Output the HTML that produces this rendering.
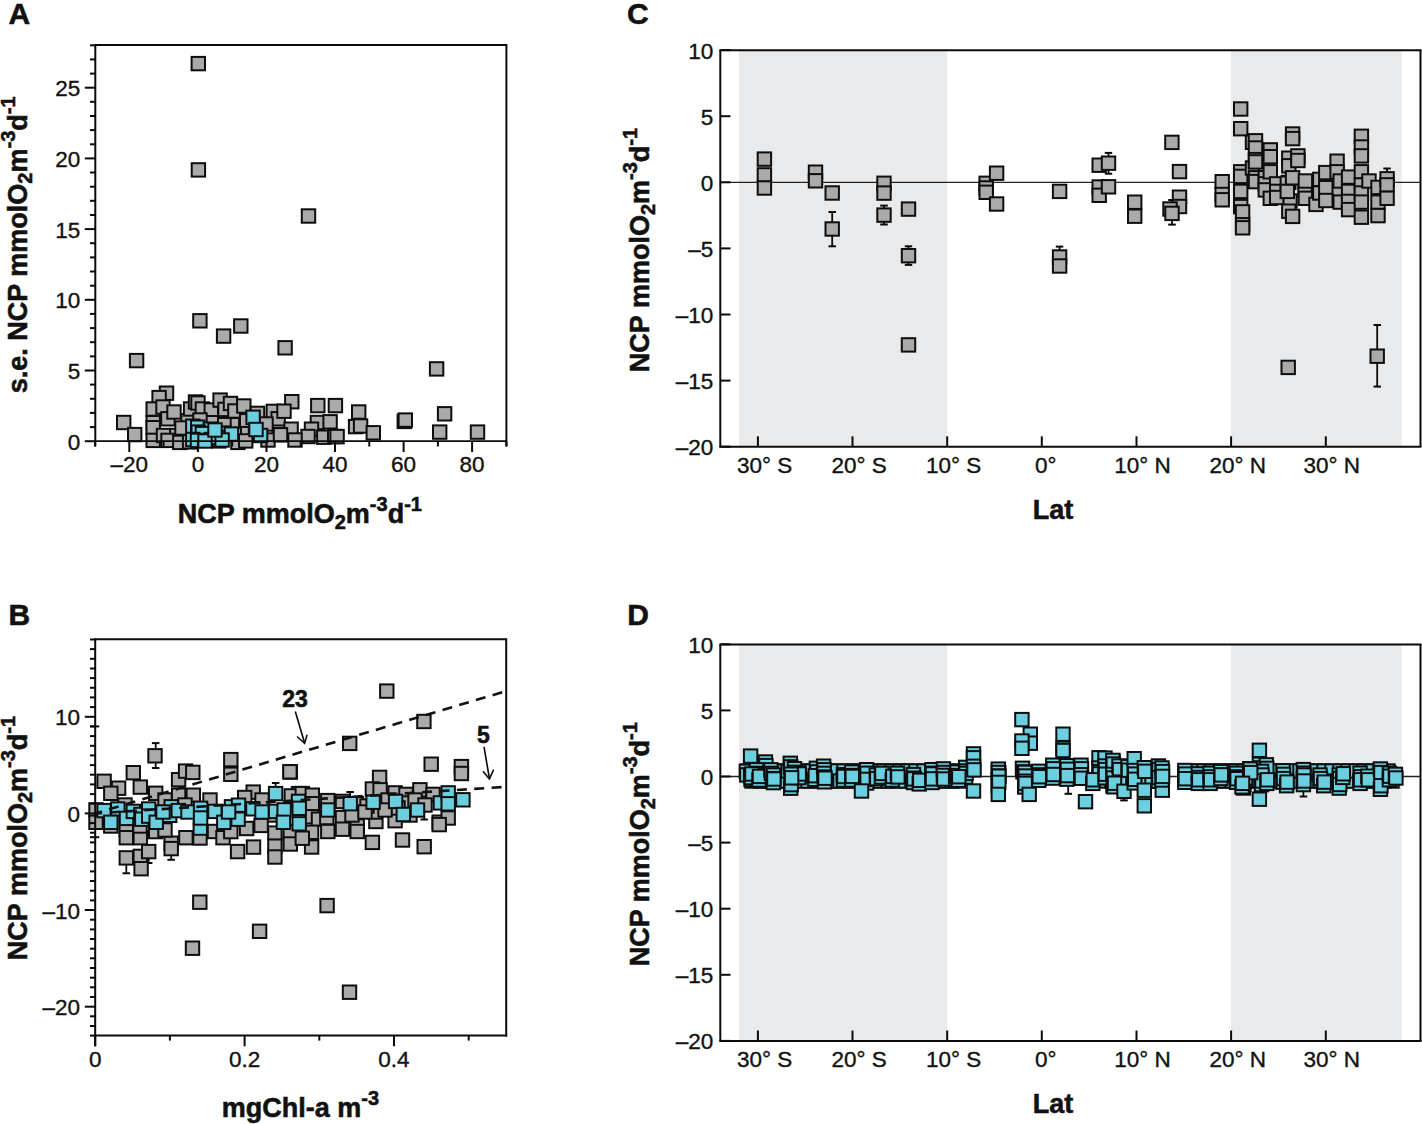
<!DOCTYPE html>
<html><head><meta charset="utf-8"><style>
html,body{margin:0;padding:0;background:#fff;}
svg{display:block;font-family:"Liberation Sans", sans-serif;}
text{fill:#111;stroke:#111;stroke-width:0.35px;}
text[font-weight=bold]{stroke-width:0.55px;}
</style></head><body>
<svg width="1422" height="1124" viewBox="0 0 1422 1124">
<rect width="1422" height="1124" fill="#fff"/>
<rect x="191.6" y="56.9" width="13.4" height="13.4" fill="#aaaaaa" stroke="#0d0d0d" stroke-width="2.0"/>
<rect x="191.7" y="163.2" width="13.4" height="13.4" fill="#aaaaaa" stroke="#0d0d0d" stroke-width="2.0"/>
<rect x="301.8" y="209.3" width="13.4" height="13.4" fill="#aaaaaa" stroke="#0d0d0d" stroke-width="2.0"/>
<rect x="193.2" y="314.1" width="13.4" height="13.4" fill="#aaaaaa" stroke="#0d0d0d" stroke-width="2.0"/>
<rect x="216.9" y="329.4" width="13.4" height="13.4" fill="#aaaaaa" stroke="#0d0d0d" stroke-width="2.0"/>
<rect x="234.1" y="319.3" width="13.4" height="13.4" fill="#aaaaaa" stroke="#0d0d0d" stroke-width="2.0"/>
<rect x="278.4" y="341.1" width="13.4" height="13.4" fill="#aaaaaa" stroke="#0d0d0d" stroke-width="2.0"/>
<rect x="129.9" y="353.9" width="13.4" height="13.4" fill="#aaaaaa" stroke="#0d0d0d" stroke-width="2.0"/>
<rect x="429.9" y="362.2" width="13.4" height="13.4" fill="#aaaaaa" stroke="#0d0d0d" stroke-width="2.0"/>
<rect x="117.0" y="415.8" width="13.4" height="13.4" fill="#aaaaaa" stroke="#0d0d0d" stroke-width="2.0"/>
<rect x="128.0" y="427.9" width="13.4" height="13.4" fill="#aaaaaa" stroke="#0d0d0d" stroke-width="2.0"/>
<rect x="159.8" y="386.5" width="13.4" height="13.4" fill="#aaaaaa" stroke="#0d0d0d" stroke-width="2.0"/>
<rect x="152.4" y="390.9" width="13.4" height="13.4" fill="#aaaaaa" stroke="#0d0d0d" stroke-width="2.0"/>
<rect x="146.5" y="402.3" width="13.4" height="13.4" fill="#aaaaaa" stroke="#0d0d0d" stroke-width="2.0"/>
<rect x="156.3" y="400.3" width="13.4" height="13.4" fill="#aaaaaa" stroke="#0d0d0d" stroke-width="2.0"/>
<rect x="146.5" y="416.0" width="13.4" height="13.4" fill="#aaaaaa" stroke="#0d0d0d" stroke-width="2.0"/>
<rect x="146.5" y="421.0" width="13.4" height="13.4" fill="#aaaaaa" stroke="#0d0d0d" stroke-width="2.0"/>
<rect x="146.5" y="433.7" width="13.4" height="13.4" fill="#aaaaaa" stroke="#0d0d0d" stroke-width="2.0"/>
<rect x="161.2" y="412.1" width="13.4" height="13.4" fill="#aaaaaa" stroke="#0d0d0d" stroke-width="2.0"/>
<rect x="167.3" y="405.3" width="13.4" height="13.4" fill="#aaaaaa" stroke="#0d0d0d" stroke-width="2.0"/>
<rect x="156.8" y="428.8" width="13.4" height="13.4" fill="#aaaaaa" stroke="#0d0d0d" stroke-width="2.0"/>
<rect x="170.1" y="428.8" width="13.4" height="13.4" fill="#aaaaaa" stroke="#0d0d0d" stroke-width="2.0"/>
<rect x="181.3" y="414.1" width="13.4" height="13.4" fill="#aaaaaa" stroke="#0d0d0d" stroke-width="2.0"/>
<rect x="183.9" y="402.3" width="13.4" height="13.4" fill="#aaaaaa" stroke="#0d0d0d" stroke-width="2.0"/>
<rect x="188.8" y="395.3" width="13.4" height="13.4" fill="#aaaaaa" stroke="#0d0d0d" stroke-width="2.0"/>
<rect x="191.3" y="396.3" width="13.4" height="13.4" fill="#aaaaaa" stroke="#0d0d0d" stroke-width="2.0"/>
<rect x="195.7" y="402.3" width="13.4" height="13.4" fill="#aaaaaa" stroke="#0d0d0d" stroke-width="2.0"/>
<rect x="204.6" y="403.3" width="13.4" height="13.4" fill="#aaaaaa" stroke="#0d0d0d" stroke-width="2.0"/>
<rect x="213.4" y="393.4" width="13.4" height="13.4" fill="#aaaaaa" stroke="#0d0d0d" stroke-width="2.0"/>
<rect x="218.3" y="402.7" width="13.4" height="13.4" fill="#aaaaaa" stroke="#0d0d0d" stroke-width="2.0"/>
<rect x="223.8" y="396.8" width="13.4" height="13.4" fill="#aaaaaa" stroke="#0d0d0d" stroke-width="2.0"/>
<rect x="228.2" y="404.3" width="13.4" height="13.4" fill="#aaaaaa" stroke="#0d0d0d" stroke-width="2.0"/>
<rect x="237.1" y="399.3" width="13.4" height="13.4" fill="#aaaaaa" stroke="#0d0d0d" stroke-width="2.0"/>
<rect x="225.7" y="418.0" width="13.4" height="13.4" fill="#aaaaaa" stroke="#0d0d0d" stroke-width="2.0"/>
<rect x="217.3" y="418.0" width="13.4" height="13.4" fill="#aaaaaa" stroke="#0d0d0d" stroke-width="2.0"/>
<rect x="240.0" y="414.1" width="13.4" height="13.4" fill="#aaaaaa" stroke="#0d0d0d" stroke-width="2.0"/>
<rect x="233.9" y="427.8" width="13.4" height="13.4" fill="#aaaaaa" stroke="#0d0d0d" stroke-width="2.0"/>
<rect x="241.0" y="426.9" width="13.4" height="13.4" fill="#aaaaaa" stroke="#0d0d0d" stroke-width="2.0"/>
<rect x="250.8" y="406.7" width="13.4" height="13.4" fill="#aaaaaa" stroke="#0d0d0d" stroke-width="2.0"/>
<rect x="266.6" y="404.7" width="13.4" height="13.4" fill="#aaaaaa" stroke="#0d0d0d" stroke-width="2.0"/>
<rect x="271.5" y="412.1" width="13.4" height="13.4" fill="#aaaaaa" stroke="#0d0d0d" stroke-width="2.0"/>
<rect x="272.5" y="427.8" width="13.4" height="13.4" fill="#aaaaaa" stroke="#0d0d0d" stroke-width="2.0"/>
<rect x="248.8" y="427.3" width="13.4" height="13.4" fill="#aaaaaa" stroke="#0d0d0d" stroke-width="2.0"/>
<rect x="161.3" y="433.7" width="13.4" height="13.4" fill="#aaaaaa" stroke="#0d0d0d" stroke-width="2.0"/>
<rect x="173.1" y="435.7" width="13.4" height="13.4" fill="#aaaaaa" stroke="#0d0d0d" stroke-width="2.0"/>
<rect x="231.2" y="435.7" width="13.4" height="13.4" fill="#aaaaaa" stroke="#0d0d0d" stroke-width="2.0"/>
<rect x="239.0" y="434.2" width="13.4" height="13.4" fill="#aaaaaa" stroke="#0d0d0d" stroke-width="2.0"/>
<rect x="182.9" y="435.2" width="13.4" height="13.4" fill="#aaaaaa" stroke="#0d0d0d" stroke-width="2.0"/>
<rect x="212.1" y="434.2" width="13.4" height="13.4" fill="#aaaaaa" stroke="#0d0d0d" stroke-width="2.0"/>
<rect x="204.6" y="416.0" width="13.4" height="13.4" fill="#aaaaaa" stroke="#0d0d0d" stroke-width="2.0"/>
<rect x="193.3" y="413.3" width="13.4" height="13.4" fill="#aaaaaa" stroke="#0d0d0d" stroke-width="2.0"/>
<rect x="175.3" y="421.3" width="13.4" height="13.4" fill="#aaaaaa" stroke="#0d0d0d" stroke-width="2.0"/>
<rect x="259.3" y="417.3" width="13.4" height="13.4" fill="#aaaaaa" stroke="#0d0d0d" stroke-width="2.0"/>
<rect x="261.3" y="433.3" width="13.4" height="13.4" fill="#aaaaaa" stroke="#0d0d0d" stroke-width="2.0"/>
<rect x="285.1" y="395.0" width="13.4" height="13.4" fill="#aaaaaa" stroke="#0d0d0d" stroke-width="2.0"/>
<rect x="311.1" y="398.9" width="13.4" height="13.4" fill="#aaaaaa" stroke="#0d0d0d" stroke-width="2.0"/>
<rect x="328.7" y="398.9" width="13.4" height="13.4" fill="#aaaaaa" stroke="#0d0d0d" stroke-width="2.0"/>
<rect x="277.3" y="404.5" width="13.4" height="13.4" fill="#aaaaaa" stroke="#0d0d0d" stroke-width="2.0"/>
<rect x="284.4" y="422.5" width="13.4" height="13.4" fill="#aaaaaa" stroke="#0d0d0d" stroke-width="2.0"/>
<rect x="273.8" y="428.1" width="13.4" height="13.4" fill="#aaaaaa" stroke="#0d0d0d" stroke-width="2.0"/>
<rect x="310.7" y="415.8" width="13.4" height="13.4" fill="#aaaaaa" stroke="#0d0d0d" stroke-width="2.0"/>
<rect x="323.4" y="415.1" width="13.4" height="13.4" fill="#aaaaaa" stroke="#0d0d0d" stroke-width="2.0"/>
<rect x="304.8" y="422.5" width="13.4" height="13.4" fill="#aaaaaa" stroke="#0d0d0d" stroke-width="2.0"/>
<rect x="301.3" y="429.8" width="13.4" height="13.4" fill="#aaaaaa" stroke="#0d0d0d" stroke-width="2.0"/>
<rect x="317.1" y="430.5" width="13.4" height="13.4" fill="#aaaaaa" stroke="#0d0d0d" stroke-width="2.0"/>
<rect x="328.0" y="429.8" width="13.4" height="13.4" fill="#aaaaaa" stroke="#0d0d0d" stroke-width="2.0"/>
<rect x="288.3" y="433.3" width="13.4" height="13.4" fill="#aaaaaa" stroke="#0d0d0d" stroke-width="2.0"/>
<rect x="352.0" y="405.3" width="13.4" height="13.4" fill="#aaaaaa" stroke="#0d0d0d" stroke-width="2.0"/>
<rect x="348.9" y="419.9" width="13.4" height="13.4" fill="#aaaaaa" stroke="#0d0d0d" stroke-width="2.0"/>
<rect x="353.9" y="419.3" width="13.4" height="13.4" fill="#aaaaaa" stroke="#0d0d0d" stroke-width="2.0"/>
<rect x="366.6" y="426.1" width="13.4" height="13.4" fill="#aaaaaa" stroke="#0d0d0d" stroke-width="2.0"/>
<rect x="330.4" y="429.9" width="13.4" height="13.4" fill="#aaaaaa" stroke="#0d0d0d" stroke-width="2.0"/>
<rect x="397.6" y="414.7" width="13.4" height="13.4" fill="#aaaaaa" stroke="#0d0d0d" stroke-width="2.0"/>
<rect x="398.6" y="413.4" width="13.4" height="13.4" fill="#aaaaaa" stroke="#0d0d0d" stroke-width="2.0"/>
<rect x="437.9" y="407.1" width="13.4" height="13.4" fill="#aaaaaa" stroke="#0d0d0d" stroke-width="2.0"/>
<rect x="433.0" y="425.4" width="13.4" height="13.4" fill="#aaaaaa" stroke="#0d0d0d" stroke-width="2.0"/>
<rect x="470.8" y="425.4" width="13.4" height="13.4" fill="#aaaaaa" stroke="#0d0d0d" stroke-width="2.0"/>
<rect x="186.1" y="419.5" width="13.4" height="13.4" fill="#6ccfe0" stroke="#0d0d0d" stroke-width="2.0"/>
<rect x="191.0" y="420.5" width="13.4" height="13.4" fill="#6ccfe0" stroke="#0d0d0d" stroke-width="2.0"/>
<rect x="203.6" y="422.5" width="13.4" height="13.4" fill="#6ccfe0" stroke="#0d0d0d" stroke-width="2.0"/>
<rect x="191.5" y="425.4" width="13.4" height="13.4" fill="#6ccfe0" stroke="#0d0d0d" stroke-width="2.0"/>
<rect x="195.7" y="426.9" width="13.4" height="13.4" fill="#6ccfe0" stroke="#0d0d0d" stroke-width="2.0"/>
<rect x="217.3" y="426.4" width="13.4" height="13.4" fill="#6ccfe0" stroke="#0d0d0d" stroke-width="2.0"/>
<rect x="224.7" y="427.4" width="13.4" height="13.4" fill="#6ccfe0" stroke="#0d0d0d" stroke-width="2.0"/>
<rect x="186.1" y="432.8" width="13.4" height="13.4" fill="#6ccfe0" stroke="#0d0d0d" stroke-width="2.0"/>
<rect x="190.8" y="433.7" width="13.4" height="13.4" fill="#6ccfe0" stroke="#0d0d0d" stroke-width="2.0"/>
<rect x="204.6" y="432.8" width="13.4" height="13.4" fill="#6ccfe0" stroke="#0d0d0d" stroke-width="2.0"/>
<rect x="211.0" y="430.8" width="13.4" height="13.4" fill="#6ccfe0" stroke="#0d0d0d" stroke-width="2.0"/>
<rect x="215.4" y="433.3" width="13.4" height="13.4" fill="#6ccfe0" stroke="#0d0d0d" stroke-width="2.0"/>
<rect x="198.3" y="434.3" width="13.4" height="13.4" fill="#6ccfe0" stroke="#0d0d0d" stroke-width="2.0"/>
<rect x="208.3" y="423.3" width="13.4" height="13.4" fill="#6ccfe0" stroke="#0d0d0d" stroke-width="2.0"/>
<rect x="253.9" y="428.8" width="13.4" height="13.4" fill="#6ccfe0" stroke="#0d0d0d" stroke-width="2.0"/>
<rect x="246.4" y="410.6" width="13.4" height="13.4" fill="#6ccfe0" stroke="#0d0d0d" stroke-width="2.0"/>
<rect x="249.3" y="422.8" width="13.4" height="13.4" fill="#6ccfe0" stroke="#0d0d0d" stroke-width="2.0"/>
<line x1="95.3" y1="45.1" x2="506.4" y2="45.1" stroke="#0a0a0a" stroke-width="2" />
<line x1="95.3" y1="44.1" x2="95.3" y2="446.5" stroke="#0a0a0a" stroke-width="2" />
<line x1="506.4" y1="44.1" x2="506.4" y2="446.5" stroke="#0a0a0a" stroke-width="2" />
<line x1="95.3" y1="441.2" x2="506.4" y2="441.2" stroke="#0a0a0a" stroke-width="1.8" />
<line x1="84.8" y1="441.2" x2="95.3" y2="441.2" stroke="#0a0a0a" stroke-width="2" />
<text x="80.3" y="449.7" font-size="22.5" text-anchor="end" font-weight="normal" >0</text>
<line x1="90.0" y1="427.1" x2="95.3" y2="427.1" stroke="#0a0a0a" stroke-width="2" />
<line x1="90.0" y1="412.9" x2="95.3" y2="412.9" stroke="#0a0a0a" stroke-width="2" />
<line x1="90.0" y1="398.8" x2="95.3" y2="398.8" stroke="#0a0a0a" stroke-width="2" />
<line x1="90.0" y1="384.6" x2="95.3" y2="384.6" stroke="#0a0a0a" stroke-width="2" />
<line x1="84.8" y1="370.5" x2="95.3" y2="370.5" stroke="#0a0a0a" stroke-width="2" />
<text x="80.3" y="379.0" font-size="22.5" text-anchor="end" font-weight="normal" >5</text>
<line x1="90.0" y1="356.4" x2="95.3" y2="356.4" stroke="#0a0a0a" stroke-width="2" />
<line x1="90.0" y1="342.2" x2="95.3" y2="342.2" stroke="#0a0a0a" stroke-width="2" />
<line x1="90.0" y1="328.1" x2="95.3" y2="328.1" stroke="#0a0a0a" stroke-width="2" />
<line x1="90.0" y1="313.9" x2="95.3" y2="313.9" stroke="#0a0a0a" stroke-width="2" />
<line x1="84.8" y1="299.8" x2="95.3" y2="299.8" stroke="#0a0a0a" stroke-width="2" />
<text x="80.3" y="308.3" font-size="22.5" text-anchor="end" font-weight="normal" >10</text>
<line x1="90.0" y1="285.7" x2="95.3" y2="285.7" stroke="#0a0a0a" stroke-width="2" />
<line x1="90.0" y1="271.5" x2="95.3" y2="271.5" stroke="#0a0a0a" stroke-width="2" />
<line x1="90.0" y1="257.4" x2="95.3" y2="257.4" stroke="#0a0a0a" stroke-width="2" />
<line x1="90.0" y1="243.2" x2="95.3" y2="243.2" stroke="#0a0a0a" stroke-width="2" />
<line x1="84.8" y1="229.1" x2="95.3" y2="229.1" stroke="#0a0a0a" stroke-width="2" />
<text x="80.3" y="237.6" font-size="22.5" text-anchor="end" font-weight="normal" >15</text>
<line x1="90.0" y1="215.0" x2="95.3" y2="215.0" stroke="#0a0a0a" stroke-width="2" />
<line x1="90.0" y1="200.8" x2="95.3" y2="200.8" stroke="#0a0a0a" stroke-width="2" />
<line x1="90.0" y1="186.7" x2="95.3" y2="186.7" stroke="#0a0a0a" stroke-width="2" />
<line x1="90.0" y1="172.5" x2="95.3" y2="172.5" stroke="#0a0a0a" stroke-width="2" />
<line x1="84.8" y1="158.4" x2="95.3" y2="158.4" stroke="#0a0a0a" stroke-width="2" />
<text x="80.3" y="166.9" font-size="22.5" text-anchor="end" font-weight="normal" >20</text>
<line x1="90.0" y1="144.3" x2="95.3" y2="144.3" stroke="#0a0a0a" stroke-width="2" />
<line x1="90.0" y1="130.1" x2="95.3" y2="130.1" stroke="#0a0a0a" stroke-width="2" />
<line x1="90.0" y1="116.0" x2="95.3" y2="116.0" stroke="#0a0a0a" stroke-width="2" />
<line x1="90.0" y1="101.8" x2="95.3" y2="101.8" stroke="#0a0a0a" stroke-width="2" />
<line x1="84.8" y1="87.7" x2="95.3" y2="87.7" stroke="#0a0a0a" stroke-width="2" />
<text x="80.3" y="96.2" font-size="22.5" text-anchor="end" font-weight="normal" >25</text>
<line x1="90.0" y1="73.6" x2="95.3" y2="73.6" stroke="#0a0a0a" stroke-width="2" />
<line x1="90.0" y1="59.4" x2="95.3" y2="59.4" stroke="#0a0a0a" stroke-width="2" />
<line x1="90.0" y1="45.3" x2="95.3" y2="45.3" stroke="#0a0a0a" stroke-width="2" />
<line x1="95.1" y1="441.2" x2="95.1" y2="446.5" stroke="#0a0a0a" stroke-width="2" />
<line x1="129.3" y1="441.2" x2="129.3" y2="452.0" stroke="#0a0a0a" stroke-width="2" />
<text x="129.3" y="472.3" font-size="22.5" text-anchor="middle" font-weight="normal" >–20</text>
<line x1="163.6" y1="441.2" x2="163.6" y2="446.5" stroke="#0a0a0a" stroke-width="2" />
<line x1="197.9" y1="441.2" x2="197.9" y2="452.0" stroke="#0a0a0a" stroke-width="2" />
<text x="197.9" y="472.3" font-size="22.5" text-anchor="middle" font-weight="normal" >0</text>
<line x1="232.2" y1="441.2" x2="232.2" y2="446.5" stroke="#0a0a0a" stroke-width="2" />
<line x1="266.5" y1="441.2" x2="266.5" y2="452.0" stroke="#0a0a0a" stroke-width="2" />
<text x="266.5" y="472.3" font-size="22.5" text-anchor="middle" font-weight="normal" >20</text>
<line x1="300.7" y1="441.2" x2="300.7" y2="446.5" stroke="#0a0a0a" stroke-width="2" />
<line x1="335.0" y1="441.2" x2="335.0" y2="452.0" stroke="#0a0a0a" stroke-width="2" />
<text x="335.0" y="472.3" font-size="22.5" text-anchor="middle" font-weight="normal" >40</text>
<line x1="369.3" y1="441.2" x2="369.3" y2="446.5" stroke="#0a0a0a" stroke-width="2" />
<line x1="403.6" y1="441.2" x2="403.6" y2="452.0" stroke="#0a0a0a" stroke-width="2" />
<text x="403.6" y="472.3" font-size="22.5" text-anchor="middle" font-weight="normal" >60</text>
<line x1="437.9" y1="441.2" x2="437.9" y2="446.5" stroke="#0a0a0a" stroke-width="2" />
<line x1="472.1" y1="441.2" x2="472.1" y2="452.0" stroke="#0a0a0a" stroke-width="2" />
<text x="472.1" y="472.3" font-size="22.5" text-anchor="middle" font-weight="normal" >80</text>
<line x1="506.4" y1="441.2" x2="506.4" y2="446.5" stroke="#0a0a0a" stroke-width="2" />
<line x1="155.7" y1="743.1" x2="155.7" y2="768.0" stroke="#0a0a0a" stroke-width="1.8" />
<line x1="151.9" y1="743.1" x2="159.4" y2="743.1" stroke="#0a0a0a" stroke-width="2" />
<line x1="151.9" y1="768.0" x2="159.4" y2="768.0" stroke="#0a0a0a" stroke-width="2" />
<line x1="126.3" y1="857.9" x2="126.3" y2="873.3" stroke="#0a0a0a" stroke-width="1.8" />
<line x1="122.5" y1="857.9" x2="130.1" y2="857.9" stroke="#0a0a0a" stroke-width="2" />
<line x1="122.5" y1="873.3" x2="130.1" y2="873.3" stroke="#0a0a0a" stroke-width="2" />
<line x1="171.2" y1="848.6" x2="171.2" y2="859.8" stroke="#0a0a0a" stroke-width="1.8" />
<line x1="167.4" y1="848.6" x2="174.9" y2="848.6" stroke="#0a0a0a" stroke-width="2" />
<line x1="167.4" y1="859.8" x2="174.9" y2="859.8" stroke="#0a0a0a" stroke-width="2" />
<line x1="275.6" y1="783.0" x2="275.6" y2="793.0" stroke="#0a0a0a" stroke-width="1.8" />
<line x1="271.9" y1="783.0" x2="279.4" y2="783.0" stroke="#0a0a0a" stroke-width="2" />
<line x1="271.9" y1="793.0" x2="279.4" y2="793.0" stroke="#0a0a0a" stroke-width="2" />
<line x1="350.2" y1="792.0" x2="350.2" y2="804.0" stroke="#0a0a0a" stroke-width="1.8" />
<line x1="346.4" y1="792.0" x2="353.9" y2="792.0" stroke="#0a0a0a" stroke-width="2" />
<line x1="346.4" y1="804.0" x2="353.9" y2="804.0" stroke="#0a0a0a" stroke-width="2" />
<line x1="395.6" y1="790.5" x2="395.6" y2="801.6" stroke="#0a0a0a" stroke-width="1.8" />
<line x1="391.9" y1="790.5" x2="399.4" y2="790.5" stroke="#0a0a0a" stroke-width="2" />
<line x1="391.9" y1="801.6" x2="399.4" y2="801.6" stroke="#0a0a0a" stroke-width="2" />
<line x1="424.2" y1="800.0" x2="424.2" y2="819.5" stroke="#0a0a0a" stroke-width="1.8" />
<line x1="420.4" y1="800.0" x2="427.9" y2="800.0" stroke="#0a0a0a" stroke-width="2" />
<line x1="420.4" y1="819.5" x2="427.9" y2="819.5" stroke="#0a0a0a" stroke-width="2" />
<line x1="200.3" y1="828.1" x2="200.3" y2="838.5" stroke="#0a0a0a" stroke-width="1.8" />
<line x1="196.6" y1="828.1" x2="204.1" y2="828.1" stroke="#0a0a0a" stroke-width="2" />
<line x1="196.6" y1="838.5" x2="204.1" y2="838.5" stroke="#0a0a0a" stroke-width="2" />
<line x1="148.7" y1="851.6" x2="148.7" y2="863.0" stroke="#0a0a0a" stroke-width="1.8" />
<line x1="144.9" y1="851.6" x2="152.4" y2="851.6" stroke="#0a0a0a" stroke-width="2" />
<line x1="144.9" y1="863.0" x2="152.4" y2="863.0" stroke="#0a0a0a" stroke-width="2" />
<rect x="148.3" y="749.1" width="13.4" height="13.4" fill="#aaaaaa" stroke="#0d0d0d" stroke-width="2.0"/>
<rect x="97.4" y="774.6" width="13.4" height="13.4" fill="#aaaaaa" stroke="#0d0d0d" stroke-width="2.0"/>
<rect x="111.9" y="781.5" width="13.4" height="13.4" fill="#aaaaaa" stroke="#0d0d0d" stroke-width="2.0"/>
<rect x="126.6" y="766.0" width="13.4" height="13.4" fill="#aaaaaa" stroke="#0d0d0d" stroke-width="2.0"/>
<rect x="104.1" y="786.6" width="13.4" height="13.4" fill="#aaaaaa" stroke="#0d0d0d" stroke-width="2.0"/>
<rect x="133.6" y="780.4" width="13.4" height="13.4" fill="#aaaaaa" stroke="#0d0d0d" stroke-width="2.0"/>
<rect x="149.0" y="786.6" width="13.4" height="13.4" fill="#aaaaaa" stroke="#0d0d0d" stroke-width="2.0"/>
<rect x="171.9" y="773.0" width="13.4" height="13.4" fill="#aaaaaa" stroke="#0d0d0d" stroke-width="2.0"/>
<rect x="178.9" y="764.4" width="13.4" height="13.4" fill="#aaaaaa" stroke="#0d0d0d" stroke-width="2.0"/>
<rect x="186.1" y="765.7" width="13.4" height="13.4" fill="#aaaaaa" stroke="#0d0d0d" stroke-width="2.0"/>
<rect x="171.9" y="788.5" width="13.4" height="13.4" fill="#aaaaaa" stroke="#0d0d0d" stroke-width="2.0"/>
<rect x="186.6" y="788.5" width="13.4" height="13.4" fill="#aaaaaa" stroke="#0d0d0d" stroke-width="2.0"/>
<rect x="224.1" y="752.9" width="13.4" height="13.4" fill="#aaaaaa" stroke="#0d0d0d" stroke-width="2.0"/>
<rect x="224.1" y="767.6" width="13.4" height="13.4" fill="#aaaaaa" stroke="#0d0d0d" stroke-width="2.0"/>
<rect x="283.6" y="765.3" width="13.4" height="13.4" fill="#aaaaaa" stroke="#0d0d0d" stroke-width="2.0"/>
<rect x="246.5" y="785.4" width="13.4" height="13.4" fill="#aaaaaa" stroke="#0d0d0d" stroke-width="2.0"/>
<rect x="238.0" y="790.8" width="13.4" height="13.4" fill="#aaaaaa" stroke="#0d0d0d" stroke-width="2.0"/>
<rect x="291.8" y="786.9" width="13.4" height="13.4" fill="#aaaaaa" stroke="#0d0d0d" stroke-width="2.0"/>
<rect x="284.6" y="789.2" width="13.4" height="13.4" fill="#aaaaaa" stroke="#0d0d0d" stroke-width="2.0"/>
<rect x="89.3" y="803.2" width="13.4" height="13.4" fill="#aaaaaa" stroke="#0d0d0d" stroke-width="2.0"/>
<rect x="89.3" y="815.6" width="13.4" height="13.4" fill="#aaaaaa" stroke="#0d0d0d" stroke-width="2.0"/>
<rect x="104.1" y="808.3" width="13.4" height="13.4" fill="#aaaaaa" stroke="#0d0d0d" stroke-width="2.0"/>
<rect x="118.3" y="798.3" width="13.4" height="13.4" fill="#aaaaaa" stroke="#0d0d0d" stroke-width="2.0"/>
<rect x="158.3" y="793.3" width="13.4" height="13.4" fill="#aaaaaa" stroke="#0d0d0d" stroke-width="2.0"/>
<rect x="178.3" y="798.3" width="13.4" height="13.4" fill="#aaaaaa" stroke="#0d0d0d" stroke-width="2.0"/>
<rect x="203.3" y="793.3" width="13.4" height="13.4" fill="#aaaaaa" stroke="#0d0d0d" stroke-width="2.0"/>
<rect x="255.3" y="793.3" width="13.4" height="13.4" fill="#aaaaaa" stroke="#0d0d0d" stroke-width="2.0"/>
<rect x="263.3" y="808.3" width="13.4" height="13.4" fill="#aaaaaa" stroke="#0d0d0d" stroke-width="2.0"/>
<rect x="225.3" y="808.3" width="13.4" height="13.4" fill="#aaaaaa" stroke="#0d0d0d" stroke-width="2.0"/>
<rect x="153.3" y="808.3" width="13.4" height="13.4" fill="#aaaaaa" stroke="#0d0d0d" stroke-width="2.0"/>
<rect x="119.6" y="823.3" width="13.4" height="13.4" fill="#aaaaaa" stroke="#0d0d0d" stroke-width="2.0"/>
<rect x="119.6" y="831.0" width="13.4" height="13.4" fill="#aaaaaa" stroke="#0d0d0d" stroke-width="2.0"/>
<rect x="119.6" y="851.2" width="13.4" height="13.4" fill="#aaaaaa" stroke="#0d0d0d" stroke-width="2.0"/>
<rect x="133.6" y="831.0" width="13.4" height="13.4" fill="#aaaaaa" stroke="#0d0d0d" stroke-width="2.0"/>
<rect x="133.6" y="849.7" width="13.4" height="13.4" fill="#aaaaaa" stroke="#0d0d0d" stroke-width="2.0"/>
<rect x="134.4" y="862.0" width="13.4" height="13.4" fill="#aaaaaa" stroke="#0d0d0d" stroke-width="2.0"/>
<rect x="142.0" y="844.9" width="13.4" height="13.4" fill="#aaaaaa" stroke="#0d0d0d" stroke-width="2.0"/>
<rect x="149.0" y="824.9" width="13.4" height="13.4" fill="#aaaaaa" stroke="#0d0d0d" stroke-width="2.0"/>
<rect x="164.5" y="836.5" width="13.4" height="13.4" fill="#aaaaaa" stroke="#0d0d0d" stroke-width="2.0"/>
<rect x="164.5" y="841.9" width="13.4" height="13.4" fill="#aaaaaa" stroke="#0d0d0d" stroke-width="2.0"/>
<rect x="179.2" y="831.0" width="13.4" height="13.4" fill="#aaaaaa" stroke="#0d0d0d" stroke-width="2.0"/>
<rect x="207.8" y="824.8" width="13.4" height="13.4" fill="#aaaaaa" stroke="#0d0d0d" stroke-width="2.0"/>
<rect x="216.3" y="831.0" width="13.4" height="13.4" fill="#aaaaaa" stroke="#0d0d0d" stroke-width="2.0"/>
<rect x="230.9" y="844.9" width="13.4" height="13.4" fill="#aaaaaa" stroke="#0d0d0d" stroke-width="2.0"/>
<rect x="239.9" y="821.8" width="13.4" height="13.4" fill="#aaaaaa" stroke="#0d0d0d" stroke-width="2.0"/>
<rect x="246.8" y="840.4" width="13.4" height="13.4" fill="#aaaaaa" stroke="#0d0d0d" stroke-width="2.0"/>
<rect x="254.4" y="818.7" width="13.4" height="13.4" fill="#aaaaaa" stroke="#0d0d0d" stroke-width="2.0"/>
<rect x="268.2" y="826.4" width="13.4" height="13.4" fill="#aaaaaa" stroke="#0d0d0d" stroke-width="2.0"/>
<rect x="268.2" y="839.5" width="13.4" height="13.4" fill="#aaaaaa" stroke="#0d0d0d" stroke-width="2.0"/>
<rect x="268.2" y="850.3" width="13.4" height="13.4" fill="#aaaaaa" stroke="#0d0d0d" stroke-width="2.0"/>
<rect x="283.6" y="824.9" width="13.4" height="13.4" fill="#aaaaaa" stroke="#0d0d0d" stroke-width="2.0"/>
<rect x="283.6" y="837.3" width="13.4" height="13.4" fill="#aaaaaa" stroke="#0d0d0d" stroke-width="2.0"/>
<rect x="299.1" y="827.9" width="13.4" height="13.4" fill="#aaaaaa" stroke="#0d0d0d" stroke-width="2.0"/>
<rect x="224.1" y="824.9" width="13.4" height="13.4" fill="#aaaaaa" stroke="#0d0d0d" stroke-width="2.0"/>
<rect x="104.1" y="819.3" width="13.4" height="13.4" fill="#aaaaaa" stroke="#0d0d0d" stroke-width="2.0"/>
<rect x="158.3" y="823.3" width="13.4" height="13.4" fill="#aaaaaa" stroke="#0d0d0d" stroke-width="2.0"/>
<rect x="193.3" y="831.3" width="13.4" height="13.4" fill="#aaaaaa" stroke="#0d0d0d" stroke-width="2.0"/>
<rect x="133.3" y="819.3" width="13.4" height="13.4" fill="#aaaaaa" stroke="#0d0d0d" stroke-width="2.0"/>
<rect x="372.9" y="770.7" width="13.4" height="13.4" fill="#aaaaaa" stroke="#0d0d0d" stroke-width="2.0"/>
<rect x="424.5" y="757.5" width="13.4" height="13.4" fill="#aaaaaa" stroke="#0d0d0d" stroke-width="2.0"/>
<rect x="454.7" y="759.9" width="13.4" height="13.4" fill="#aaaaaa" stroke="#0d0d0d" stroke-width="2.0"/>
<rect x="454.7" y="766.8" width="13.4" height="13.4" fill="#aaaaaa" stroke="#0d0d0d" stroke-width="2.0"/>
<rect x="295.6" y="786.9" width="13.4" height="13.4" fill="#aaaaaa" stroke="#0d0d0d" stroke-width="2.0"/>
<rect x="305.6" y="788.5" width="13.4" height="13.4" fill="#aaaaaa" stroke="#0d0d0d" stroke-width="2.0"/>
<rect x="305.6" y="797.0" width="13.4" height="13.4" fill="#aaaaaa" stroke="#0d0d0d" stroke-width="2.0"/>
<rect x="321.1" y="793.9" width="13.4" height="13.4" fill="#aaaaaa" stroke="#0d0d0d" stroke-width="2.0"/>
<rect x="335.8" y="794.7" width="13.4" height="13.4" fill="#aaaaaa" stroke="#0d0d0d" stroke-width="2.0"/>
<rect x="349.7" y="797.0" width="13.4" height="13.4" fill="#aaaaaa" stroke="#0d0d0d" stroke-width="2.0"/>
<rect x="365.7" y="782.3" width="13.4" height="13.4" fill="#aaaaaa" stroke="#0d0d0d" stroke-width="2.0"/>
<rect x="373.4" y="783.1" width="13.4" height="13.4" fill="#aaaaaa" stroke="#0d0d0d" stroke-width="2.0"/>
<rect x="388.4" y="786.2" width="13.4" height="13.4" fill="#aaaaaa" stroke="#0d0d0d" stroke-width="2.0"/>
<rect x="399.3" y="787.7" width="13.4" height="13.4" fill="#aaaaaa" stroke="#0d0d0d" stroke-width="2.0"/>
<rect x="413.2" y="783.1" width="13.4" height="13.4" fill="#aaaaaa" stroke="#0d0d0d" stroke-width="2.0"/>
<rect x="426.3" y="787.7" width="13.4" height="13.4" fill="#aaaaaa" stroke="#0d0d0d" stroke-width="2.0"/>
<rect x="304.9" y="810.1" width="13.4" height="13.4" fill="#aaaaaa" stroke="#0d0d0d" stroke-width="2.0"/>
<rect x="311.8" y="812.5" width="13.4" height="13.4" fill="#aaaaaa" stroke="#0d0d0d" stroke-width="2.0"/>
<rect x="320.1" y="810.9" width="13.4" height="13.4" fill="#aaaaaa" stroke="#0d0d0d" stroke-width="2.0"/>
<rect x="335.8" y="810.9" width="13.4" height="13.4" fill="#aaaaaa" stroke="#0d0d0d" stroke-width="2.0"/>
<rect x="369.2" y="814.8" width="13.4" height="13.4" fill="#aaaaaa" stroke="#0d0d0d" stroke-width="2.0"/>
<rect x="388.4" y="814.0" width="13.4" height="13.4" fill="#aaaaaa" stroke="#0d0d0d" stroke-width="2.0"/>
<rect x="432.5" y="815.5" width="13.4" height="13.4" fill="#aaaaaa" stroke="#0d0d0d" stroke-width="2.0"/>
<rect x="441.5" y="811.3" width="13.4" height="13.4" fill="#aaaaaa" stroke="#0d0d0d" stroke-width="2.0"/>
<rect x="432.5" y="817.9" width="13.4" height="13.4" fill="#aaaaaa" stroke="#0d0d0d" stroke-width="2.0"/>
<rect x="304.9" y="825.6" width="13.4" height="13.4" fill="#aaaaaa" stroke="#0d0d0d" stroke-width="2.0"/>
<rect x="304.9" y="840.3" width="13.4" height="13.4" fill="#aaaaaa" stroke="#0d0d0d" stroke-width="2.0"/>
<rect x="321.1" y="824.8" width="13.4" height="13.4" fill="#aaaaaa" stroke="#0d0d0d" stroke-width="2.0"/>
<rect x="335.8" y="822.5" width="13.4" height="13.4" fill="#aaaaaa" stroke="#0d0d0d" stroke-width="2.0"/>
<rect x="350.5" y="819.4" width="13.4" height="13.4" fill="#aaaaaa" stroke="#0d0d0d" stroke-width="2.0"/>
<rect x="350.5" y="824.8" width="13.4" height="13.4" fill="#aaaaaa" stroke="#0d0d0d" stroke-width="2.0"/>
<rect x="365.7" y="835.7" width="13.4" height="13.4" fill="#aaaaaa" stroke="#0d0d0d" stroke-width="2.0"/>
<rect x="395.8" y="833.3" width="13.4" height="13.4" fill="#aaaaaa" stroke="#0d0d0d" stroke-width="2.0"/>
<rect x="417.5" y="840.0" width="13.4" height="13.4" fill="#aaaaaa" stroke="#0d0d0d" stroke-width="2.0"/>
<rect x="345.3" y="808.3" width="13.4" height="13.4" fill="#aaaaaa" stroke="#0d0d0d" stroke-width="2.0"/>
<rect x="368.3" y="805.3" width="13.4" height="13.4" fill="#aaaaaa" stroke="#0d0d0d" stroke-width="2.0"/>
<rect x="381.3" y="793.3" width="13.4" height="13.4" fill="#aaaaaa" stroke="#0d0d0d" stroke-width="2.0"/>
<rect x="398.3" y="796.3" width="13.4" height="13.4" fill="#aaaaaa" stroke="#0d0d0d" stroke-width="2.0"/>
<rect x="408.3" y="793.3" width="13.4" height="13.4" fill="#aaaaaa" stroke="#0d0d0d" stroke-width="2.0"/>
<rect x="391.3" y="801.3" width="13.4" height="13.4" fill="#aaaaaa" stroke="#0d0d0d" stroke-width="2.0"/>
<rect x="360.3" y="799.3" width="13.4" height="13.4" fill="#aaaaaa" stroke="#0d0d0d" stroke-width="2.0"/>
<rect x="295.6" y="831.5" width="13.4" height="13.4" fill="#aaaaaa" stroke="#0d0d0d" stroke-width="2.0"/>
<rect x="378.3" y="803.3" width="13.4" height="13.4" fill="#aaaaaa" stroke="#0d0d0d" stroke-width="2.0"/>
<rect x="358.3" y="805.3" width="13.4" height="13.4" fill="#aaaaaa" stroke="#0d0d0d" stroke-width="2.0"/>
<rect x="418.3" y="798.3" width="13.4" height="13.4" fill="#aaaaaa" stroke="#0d0d0d" stroke-width="2.0"/>
<rect x="403.3" y="808.3" width="13.4" height="13.4" fill="#aaaaaa" stroke="#0d0d0d" stroke-width="2.0"/>
<rect x="380.1" y="684.4" width="13.4" height="13.4" fill="#aaaaaa" stroke="#0d0d0d" stroke-width="2.0"/>
<rect x="417.2" y="714.8" width="13.4" height="13.4" fill="#aaaaaa" stroke="#0d0d0d" stroke-width="2.0"/>
<rect x="343.0" y="736.7" width="13.4" height="13.4" fill="#aaaaaa" stroke="#0d0d0d" stroke-width="2.0"/>
<rect x="283.2" y="765.1" width="13.4" height="13.4" fill="#aaaaaa" stroke="#0d0d0d" stroke-width="2.0"/>
<rect x="193.1" y="895.5" width="13.4" height="13.4" fill="#aaaaaa" stroke="#0d0d0d" stroke-width="2.0"/>
<rect x="185.8" y="941.5" width="13.4" height="13.4" fill="#aaaaaa" stroke="#0d0d0d" stroke-width="2.0"/>
<rect x="252.9" y="924.6" width="13.4" height="13.4" fill="#aaaaaa" stroke="#0d0d0d" stroke-width="2.0"/>
<rect x="320.4" y="898.9" width="13.4" height="13.4" fill="#aaaaaa" stroke="#0d0d0d" stroke-width="2.0"/>
<rect x="342.8" y="985.5" width="13.4" height="13.4" fill="#aaaaaa" stroke="#0d0d0d" stroke-width="2.0"/>
<rect x="97.4" y="803.9" width="13.4" height="13.4" fill="#6ccfe0" stroke="#0d0d0d" stroke-width="2.0"/>
<rect x="111.1" y="802.3" width="13.4" height="13.4" fill="#6ccfe0" stroke="#0d0d0d" stroke-width="2.0"/>
<rect x="104.1" y="815.6" width="13.4" height="13.4" fill="#6ccfe0" stroke="#0d0d0d" stroke-width="2.0"/>
<rect x="119.8" y="811.7" width="13.4" height="13.4" fill="#6ccfe0" stroke="#0d0d0d" stroke-width="2.0"/>
<rect x="126.6" y="804.7" width="13.4" height="13.4" fill="#6ccfe0" stroke="#0d0d0d" stroke-width="2.0"/>
<rect x="134.2" y="807.8" width="13.4" height="13.4" fill="#6ccfe0" stroke="#0d0d0d" stroke-width="2.0"/>
<rect x="135.1" y="812.5" width="13.4" height="13.4" fill="#6ccfe0" stroke="#0d0d0d" stroke-width="2.0"/>
<rect x="142.0" y="802.3" width="13.4" height="13.4" fill="#6ccfe0" stroke="#0d0d0d" stroke-width="2.0"/>
<rect x="142.0" y="809.4" width="13.4" height="13.4" fill="#6ccfe0" stroke="#0d0d0d" stroke-width="2.0"/>
<rect x="149.5" y="815.6" width="13.4" height="13.4" fill="#6ccfe0" stroke="#0d0d0d" stroke-width="2.0"/>
<rect x="164.5" y="800.1" width="13.4" height="13.4" fill="#6ccfe0" stroke="#0d0d0d" stroke-width="2.0"/>
<rect x="163.0" y="808.6" width="13.4" height="13.4" fill="#6ccfe0" stroke="#0d0d0d" stroke-width="2.0"/>
<rect x="171.6" y="803.9" width="13.4" height="13.4" fill="#6ccfe0" stroke="#0d0d0d" stroke-width="2.0"/>
<rect x="181.3" y="805.3" width="13.4" height="13.4" fill="#6ccfe0" stroke="#0d0d0d" stroke-width="2.0"/>
<rect x="193.9" y="801.6" width="13.4" height="13.4" fill="#6ccfe0" stroke="#0d0d0d" stroke-width="2.0"/>
<rect x="193.6" y="821.4" width="13.4" height="13.4" fill="#6ccfe0" stroke="#0d0d0d" stroke-width="2.0"/>
<rect x="193.9" y="811.3" width="13.4" height="13.4" fill="#6ccfe0" stroke="#0d0d0d" stroke-width="2.0"/>
<rect x="208.2" y="804.7" width="13.4" height="13.4" fill="#6ccfe0" stroke="#0d0d0d" stroke-width="2.0"/>
<rect x="217.1" y="815.6" width="13.4" height="13.4" fill="#6ccfe0" stroke="#0d0d0d" stroke-width="2.0"/>
<rect x="224.8" y="800.1" width="13.4" height="13.4" fill="#6ccfe0" stroke="#0d0d0d" stroke-width="2.0"/>
<rect x="231.8" y="798.5" width="13.4" height="13.4" fill="#6ccfe0" stroke="#0d0d0d" stroke-width="2.0"/>
<rect x="231.4" y="812.5" width="13.4" height="13.4" fill="#6ccfe0" stroke="#0d0d0d" stroke-width="2.0"/>
<rect x="246.2" y="802.1" width="13.4" height="13.4" fill="#6ccfe0" stroke="#0d0d0d" stroke-width="2.0"/>
<rect x="255.3" y="805.3" width="13.4" height="13.4" fill="#6ccfe0" stroke="#0d0d0d" stroke-width="2.0"/>
<rect x="268.9" y="786.9" width="13.4" height="13.4" fill="#6ccfe0" stroke="#0d0d0d" stroke-width="2.0"/>
<rect x="268.9" y="804.7" width="13.4" height="13.4" fill="#6ccfe0" stroke="#0d0d0d" stroke-width="2.0"/>
<rect x="277.4" y="803.2" width="13.4" height="13.4" fill="#6ccfe0" stroke="#0d0d0d" stroke-width="2.0"/>
<rect x="276.7" y="815.6" width="13.4" height="13.4" fill="#6ccfe0" stroke="#0d0d0d" stroke-width="2.0"/>
<rect x="291.8" y="794.7" width="13.4" height="13.4" fill="#6ccfe0" stroke="#0d0d0d" stroke-width="2.0"/>
<rect x="292.5" y="801.6" width="13.4" height="13.4" fill="#6ccfe0" stroke="#0d0d0d" stroke-width="2.0"/>
<rect x="292.5" y="817.1" width="13.4" height="13.4" fill="#6ccfe0" stroke="#0d0d0d" stroke-width="2.0"/>
<rect x="221.9" y="805.3" width="13.4" height="13.4" fill="#6ccfe0" stroke="#0d0d0d" stroke-width="2.0"/>
<rect x="156.3" y="805.3" width="13.4" height="13.4" fill="#6ccfe0" stroke="#0d0d0d" stroke-width="2.0"/>
<rect x="321.1" y="803.3" width="13.4" height="13.4" fill="#6ccfe0" stroke="#0d0d0d" stroke-width="2.0"/>
<rect x="343.5" y="797.0" width="13.4" height="13.4" fill="#6ccfe0" stroke="#0d0d0d" stroke-width="2.0"/>
<rect x="366.4" y="795.5" width="13.4" height="13.4" fill="#6ccfe0" stroke="#0d0d0d" stroke-width="2.0"/>
<rect x="388.9" y="794.7" width="13.4" height="13.4" fill="#6ccfe0" stroke="#0d0d0d" stroke-width="2.0"/>
<rect x="396.6" y="807.8" width="13.4" height="13.4" fill="#6ccfe0" stroke="#0d0d0d" stroke-width="2.0"/>
<rect x="410.8" y="803.3" width="13.4" height="13.4" fill="#6ccfe0" stroke="#0d0d0d" stroke-width="2.0"/>
<rect x="433.7" y="796.2" width="13.4" height="13.4" fill="#6ccfe0" stroke="#0d0d0d" stroke-width="2.0"/>
<rect x="441.5" y="786.2" width="13.4" height="13.4" fill="#6ccfe0" stroke="#0d0d0d" stroke-width="2.0"/>
<rect x="441.5" y="797.1" width="13.4" height="13.4" fill="#6ccfe0" stroke="#0d0d0d" stroke-width="2.0"/>
<rect x="456.2" y="793.1" width="13.4" height="13.4" fill="#6ccfe0" stroke="#0d0d0d" stroke-width="2.0"/>
<line x1="95.2" y1="813.4" x2="506.2" y2="691.1" stroke="#111" stroke-width="2.6" stroke-dasharray="10 7.4" stroke-dashoffset="3"/>
<line x1="95.2" y1="813.4" x2="506.2" y2="786.8" stroke="#111" stroke-width="2.6" stroke-dasharray="10 7.4" stroke-dashoffset="3"/>
<line x1="95.2" y1="639.3" x2="506.2" y2="639.3" stroke="#0a0a0a" stroke-width="2" />
<line x1="95.2" y1="638.3" x2="95.2" y2="1046.3" stroke="#0a0a0a" stroke-width="2" />
<line x1="506.2" y1="638.3" x2="506.2" y2="1036.6" stroke="#0a0a0a" stroke-width="2" />
<line x1="94.2" y1="1035.6" x2="507.2" y2="1035.6" stroke="#0a0a0a" stroke-width="2" />
<line x1="90.0" y1="1035.6" x2="95.2" y2="1035.6" stroke="#0a0a0a" stroke-width="2" />
<line x1="90.0" y1="1026.0" x2="95.2" y2="1026.0" stroke="#0a0a0a" stroke-width="2" />
<line x1="90.0" y1="1016.3" x2="95.2" y2="1016.3" stroke="#0a0a0a" stroke-width="2" />
<line x1="84.8" y1="1006.7" x2="95.2" y2="1006.7" stroke="#0a0a0a" stroke-width="2" />
<text x="80.0" y="1015.2" font-size="22.5" text-anchor="end" font-weight="normal" >–20</text>
<line x1="90.0" y1="997.0" x2="95.2" y2="997.0" stroke="#0a0a0a" stroke-width="2" />
<line x1="90.0" y1="987.3" x2="95.2" y2="987.3" stroke="#0a0a0a" stroke-width="2" />
<line x1="90.0" y1="977.7" x2="95.2" y2="977.7" stroke="#0a0a0a" stroke-width="2" />
<line x1="90.0" y1="968.0" x2="95.2" y2="968.0" stroke="#0a0a0a" stroke-width="2" />
<line x1="90.0" y1="958.3" x2="95.2" y2="958.3" stroke="#0a0a0a" stroke-width="2" />
<line x1="90.0" y1="948.7" x2="95.2" y2="948.7" stroke="#0a0a0a" stroke-width="2" />
<line x1="90.0" y1="939.0" x2="95.2" y2="939.0" stroke="#0a0a0a" stroke-width="2" />
<line x1="90.0" y1="929.4" x2="95.2" y2="929.4" stroke="#0a0a0a" stroke-width="2" />
<line x1="90.0" y1="919.7" x2="95.2" y2="919.7" stroke="#0a0a0a" stroke-width="2" />
<line x1="84.8" y1="910.0" x2="95.2" y2="910.0" stroke="#0a0a0a" stroke-width="2" />
<text x="80.0" y="918.5" font-size="22.5" text-anchor="end" font-weight="normal" >–10</text>
<line x1="90.0" y1="900.4" x2="95.2" y2="900.4" stroke="#0a0a0a" stroke-width="2" />
<line x1="90.0" y1="890.7" x2="95.2" y2="890.7" stroke="#0a0a0a" stroke-width="2" />
<line x1="90.0" y1="881.0" x2="95.2" y2="881.0" stroke="#0a0a0a" stroke-width="2" />
<line x1="90.0" y1="871.4" x2="95.2" y2="871.4" stroke="#0a0a0a" stroke-width="2" />
<line x1="90.0" y1="861.7" x2="95.2" y2="861.7" stroke="#0a0a0a" stroke-width="2" />
<line x1="90.0" y1="852.1" x2="95.2" y2="852.1" stroke="#0a0a0a" stroke-width="2" />
<line x1="90.0" y1="842.4" x2="95.2" y2="842.4" stroke="#0a0a0a" stroke-width="2" />
<line x1="90.0" y1="832.7" x2="95.2" y2="832.7" stroke="#0a0a0a" stroke-width="2" />
<line x1="90.0" y1="823.1" x2="95.2" y2="823.1" stroke="#0a0a0a" stroke-width="2" />
<line x1="84.8" y1="813.4" x2="95.2" y2="813.4" stroke="#0a0a0a" stroke-width="2" />
<text x="80.0" y="821.9" font-size="22.5" text-anchor="end" font-weight="normal" >0</text>
<line x1="90.0" y1="803.7" x2="95.2" y2="803.7" stroke="#0a0a0a" stroke-width="2" />
<line x1="90.0" y1="794.1" x2="95.2" y2="794.1" stroke="#0a0a0a" stroke-width="2" />
<line x1="90.0" y1="784.4" x2="95.2" y2="784.4" stroke="#0a0a0a" stroke-width="2" />
<line x1="90.0" y1="774.7" x2="95.2" y2="774.7" stroke="#0a0a0a" stroke-width="2" />
<line x1="90.0" y1="765.1" x2="95.2" y2="765.1" stroke="#0a0a0a" stroke-width="2" />
<line x1="90.0" y1="755.4" x2="95.2" y2="755.4" stroke="#0a0a0a" stroke-width="2" />
<line x1="90.0" y1="745.8" x2="95.2" y2="745.8" stroke="#0a0a0a" stroke-width="2" />
<line x1="90.0" y1="736.1" x2="95.2" y2="736.1" stroke="#0a0a0a" stroke-width="2" />
<line x1="90.0" y1="726.4" x2="95.2" y2="726.4" stroke="#0a0a0a" stroke-width="2" />
<line x1="84.8" y1="716.8" x2="95.2" y2="716.8" stroke="#0a0a0a" stroke-width="2" />
<text x="80.0" y="725.3" font-size="22.5" text-anchor="end" font-weight="normal" >10</text>
<line x1="90.0" y1="707.1" x2="95.2" y2="707.1" stroke="#0a0a0a" stroke-width="2" />
<line x1="90.0" y1="697.4" x2="95.2" y2="697.4" stroke="#0a0a0a" stroke-width="2" />
<line x1="90.0" y1="687.8" x2="95.2" y2="687.8" stroke="#0a0a0a" stroke-width="2" />
<line x1="90.0" y1="678.1" x2="95.2" y2="678.1" stroke="#0a0a0a" stroke-width="2" />
<line x1="90.0" y1="668.5" x2="95.2" y2="668.5" stroke="#0a0a0a" stroke-width="2" />
<line x1="90.0" y1="658.8" x2="95.2" y2="658.8" stroke="#0a0a0a" stroke-width="2" />
<line x1="90.0" y1="649.1" x2="95.2" y2="649.1" stroke="#0a0a0a" stroke-width="2" />
<line x1="90.0" y1="639.5" x2="95.2" y2="639.5" stroke="#0a0a0a" stroke-width="2" />
<line x1="90.0" y1="726.4" x2="99.2" y2="726.4" stroke="#0a0a0a" stroke-width="2" />
<line x1="90.0" y1="837.2" x2="99.2" y2="837.2" stroke="#0a0a0a" stroke-width="2" />
<line x1="95.2" y1="1035.6" x2="95.2" y2="1046.3" stroke="#0a0a0a" stroke-width="2" />
<text x="95.2" y="1066.6" font-size="22.5" text-anchor="middle" font-weight="normal" >0</text>
<line x1="169.9" y1="1035.6" x2="169.9" y2="1040.6" stroke="#0a0a0a" stroke-width="2" />
<line x1="244.6" y1="1035.6" x2="244.6" y2="1046.3" stroke="#0a0a0a" stroke-width="2" />
<text x="244.6" y="1066.6" font-size="22.5" text-anchor="middle" font-weight="normal" >0.2</text>
<line x1="319.3" y1="1035.6" x2="319.3" y2="1040.6" stroke="#0a0a0a" stroke-width="2" />
<line x1="394.0" y1="1035.6" x2="394.0" y2="1046.3" stroke="#0a0a0a" stroke-width="2" />
<text x="394.0" y="1066.6" font-size="22.5" text-anchor="middle" font-weight="normal" >0.4</text>
<line x1="468.7" y1="1035.6" x2="468.7" y2="1040.6" stroke="#0a0a0a" stroke-width="2" />
<text x="295.1" y="707.1" font-size="23" text-anchor="middle" font-weight="bold" >23</text>
<line x1="295.3" y1="711.4" x2="304.6" y2="743.0" stroke="#0a0a0a" stroke-width="1.6" />
<polyline points="297,736.5 304.6,743.4 307.1,734.8" fill="none" stroke="#111" stroke-width="1.6"/>
<text x="483.5" y="742.6" font-size="23" text-anchor="middle" font-weight="bold" >5</text>
<line x1="484.0" y1="746.8" x2="489.4" y2="778.5" stroke="#0a0a0a" stroke-width="1.6" />
<polyline points="483,771.3 489.4,778.9 493.6,769.6" fill="none" stroke="#111" stroke-width="1.6"/>
<rect x="739.0" y="50.3" width="208.2" height="396.5" fill="#e9eaec"/>
<rect x="1231.1" y="50.3" width="170.4" height="396.5" fill="#e9eaec"/>
<line x1="720.3" y1="182.3" x2="1420.5" y2="182.3" stroke="#222" stroke-width="1.3" />
<line x1="832.2" y1="212.0" x2="832.2" y2="246.3" stroke="#0a0a0a" stroke-width="1.8" />
<line x1="828.5" y1="212.0" x2="836.0" y2="212.0" stroke="#0a0a0a" stroke-width="2" />
<line x1="828.5" y1="246.3" x2="836.0" y2="246.3" stroke="#0a0a0a" stroke-width="2" />
<line x1="884.0" y1="205.6" x2="884.0" y2="224.5" stroke="#0a0a0a" stroke-width="1.8" />
<line x1="880.2" y1="205.6" x2="887.8" y2="205.6" stroke="#0a0a0a" stroke-width="2" />
<line x1="880.2" y1="224.5" x2="887.8" y2="224.5" stroke="#0a0a0a" stroke-width="2" />
<line x1="908.5" y1="246.3" x2="908.5" y2="264.9" stroke="#0a0a0a" stroke-width="1.8" />
<line x1="904.8" y1="246.3" x2="912.2" y2="246.3" stroke="#0a0a0a" stroke-width="2" />
<line x1="904.8" y1="264.9" x2="912.2" y2="264.9" stroke="#0a0a0a" stroke-width="2" />
<line x1="1059.6" y1="246.6" x2="1059.6" y2="268.0" stroke="#0a0a0a" stroke-width="1.8" />
<line x1="1055.8" y1="246.6" x2="1063.3" y2="246.6" stroke="#0a0a0a" stroke-width="2" />
<line x1="1055.8" y1="268.0" x2="1063.3" y2="268.0" stroke="#0a0a0a" stroke-width="2" />
<line x1="1108.5" y1="152.9" x2="1108.5" y2="173.7" stroke="#0a0a0a" stroke-width="1.8" />
<line x1="1104.8" y1="152.9" x2="1112.2" y2="152.9" stroke="#0a0a0a" stroke-width="2" />
<line x1="1104.8" y1="173.7" x2="1112.2" y2="173.7" stroke="#0a0a0a" stroke-width="2" />
<line x1="1172.0" y1="200.0" x2="1172.0" y2="224.6" stroke="#0a0a0a" stroke-width="1.8" />
<line x1="1168.2" y1="200.0" x2="1175.8" y2="200.0" stroke="#0a0a0a" stroke-width="2" />
<line x1="1168.2" y1="224.6" x2="1175.8" y2="224.6" stroke="#0a0a0a" stroke-width="2" />
<line x1="1242.6" y1="215.0" x2="1242.6" y2="231.0" stroke="#0a0a0a" stroke-width="1.8" />
<line x1="1238.8" y1="215.0" x2="1246.3" y2="215.0" stroke="#0a0a0a" stroke-width="2" />
<line x1="1238.8" y1="231.0" x2="1246.3" y2="231.0" stroke="#0a0a0a" stroke-width="2" />
<line x1="1387.1" y1="168.5" x2="1387.1" y2="200.0" stroke="#0a0a0a" stroke-width="1.8" />
<line x1="1383.3" y1="168.5" x2="1390.8" y2="168.5" stroke="#0a0a0a" stroke-width="2" />
<line x1="1383.3" y1="200.0" x2="1390.8" y2="200.0" stroke="#0a0a0a" stroke-width="2" />
<line x1="1377.2" y1="325.0" x2="1377.2" y2="386.6" stroke="#0a0a0a" stroke-width="1.8" />
<line x1="1373.5" y1="325.0" x2="1381.0" y2="325.0" stroke="#0a0a0a" stroke-width="2" />
<line x1="1373.5" y1="386.6" x2="1381.0" y2="386.6" stroke="#0a0a0a" stroke-width="2" />
<rect x="757.7" y="152.4" width="13.4" height="13.4" fill="#aaaaaa" stroke="#0d0d0d" stroke-width="2.0"/>
<rect x="757.7" y="168.2" width="13.4" height="13.4" fill="#aaaaaa" stroke="#0d0d0d" stroke-width="2.0"/>
<rect x="757.7" y="181.3" width="13.4" height="13.4" fill="#aaaaaa" stroke="#0d0d0d" stroke-width="2.0"/>
<rect x="808.8" y="165.5" width="13.4" height="13.4" fill="#aaaaaa" stroke="#0d0d0d" stroke-width="2.0"/>
<rect x="808.8" y="174.1" width="13.4" height="13.4" fill="#aaaaaa" stroke="#0d0d0d" stroke-width="2.0"/>
<rect x="825.5" y="186.3" width="13.4" height="13.4" fill="#aaaaaa" stroke="#0d0d0d" stroke-width="2.0"/>
<rect x="825.5" y="222.3" width="13.4" height="13.4" fill="#aaaaaa" stroke="#0d0d0d" stroke-width="2.0"/>
<rect x="877.3" y="176.6" width="13.4" height="13.4" fill="#aaaaaa" stroke="#0d0d0d" stroke-width="2.0"/>
<rect x="877.3" y="186.4" width="13.4" height="13.4" fill="#aaaaaa" stroke="#0d0d0d" stroke-width="2.0"/>
<rect x="877.3" y="208.4" width="13.4" height="13.4" fill="#aaaaaa" stroke="#0d0d0d" stroke-width="2.0"/>
<rect x="901.8" y="202.4" width="13.4" height="13.4" fill="#aaaaaa" stroke="#0d0d0d" stroke-width="2.0"/>
<rect x="901.8" y="249.0" width="13.4" height="13.4" fill="#aaaaaa" stroke="#0d0d0d" stroke-width="2.0"/>
<rect x="901.8" y="338.2" width="13.4" height="13.4" fill="#aaaaaa" stroke="#0d0d0d" stroke-width="2.0"/>
<rect x="979.5" y="176.6" width="13.4" height="13.4" fill="#aaaaaa" stroke="#0d0d0d" stroke-width="2.0"/>
<rect x="979.5" y="181.3" width="13.4" height="13.4" fill="#aaaaaa" stroke="#0d0d0d" stroke-width="2.0"/>
<rect x="979.5" y="185.6" width="13.4" height="13.4" fill="#aaaaaa" stroke="#0d0d0d" stroke-width="2.0"/>
<rect x="989.9" y="166.5" width="13.4" height="13.4" fill="#aaaaaa" stroke="#0d0d0d" stroke-width="2.0"/>
<rect x="989.9" y="197.3" width="13.4" height="13.4" fill="#aaaaaa" stroke="#0d0d0d" stroke-width="2.0"/>
<rect x="1052.9" y="184.7" width="13.4" height="13.4" fill="#aaaaaa" stroke="#0d0d0d" stroke-width="2.0"/>
<rect x="1052.9" y="250.3" width="13.4" height="13.4" fill="#aaaaaa" stroke="#0d0d0d" stroke-width="2.0"/>
<rect x="1052.9" y="259.3" width="13.4" height="13.4" fill="#aaaaaa" stroke="#0d0d0d" stroke-width="2.0"/>
<rect x="1092.5" y="158.5" width="13.4" height="13.4" fill="#aaaaaa" stroke="#0d0d0d" stroke-width="2.0"/>
<rect x="1101.8" y="156.5" width="13.4" height="13.4" fill="#aaaaaa" stroke="#0d0d0d" stroke-width="2.0"/>
<rect x="1092.5" y="180.3" width="13.4" height="13.4" fill="#aaaaaa" stroke="#0d0d0d" stroke-width="2.0"/>
<rect x="1092.5" y="188.6" width="13.4" height="13.4" fill="#aaaaaa" stroke="#0d0d0d" stroke-width="2.0"/>
<rect x="1101.8" y="180.1" width="13.4" height="13.4" fill="#aaaaaa" stroke="#0d0d0d" stroke-width="2.0"/>
<rect x="1128.0" y="195.5" width="13.4" height="13.4" fill="#aaaaaa" stroke="#0d0d0d" stroke-width="2.0"/>
<rect x="1128.0" y="209.5" width="13.4" height="13.4" fill="#aaaaaa" stroke="#0d0d0d" stroke-width="2.0"/>
<rect x="1165.2" y="135.7" width="13.4" height="13.4" fill="#aaaaaa" stroke="#0d0d0d" stroke-width="2.0"/>
<rect x="1172.8" y="164.9" width="13.4" height="13.4" fill="#aaaaaa" stroke="#0d0d0d" stroke-width="2.0"/>
<rect x="1172.8" y="190.5" width="13.4" height="13.4" fill="#aaaaaa" stroke="#0d0d0d" stroke-width="2.0"/>
<rect x="1172.8" y="199.8" width="13.4" height="13.4" fill="#aaaaaa" stroke="#0d0d0d" stroke-width="2.0"/>
<rect x="1163.3" y="202.3" width="13.4" height="13.4" fill="#aaaaaa" stroke="#0d0d0d" stroke-width="2.0"/>
<rect x="1165.3" y="206.7" width="13.4" height="13.4" fill="#aaaaaa" stroke="#0d0d0d" stroke-width="2.0"/>
<rect x="1281.5" y="360.7" width="13.4" height="13.4" fill="#aaaaaa" stroke="#0d0d0d" stroke-width="2.0"/>
<rect x="1370.5" y="349.5" width="13.4" height="13.4" fill="#aaaaaa" stroke="#0d0d0d" stroke-width="2.0"/>
<rect x="1215.5" y="175.0" width="13.4" height="13.4" fill="#aaaaaa" stroke="#0d0d0d" stroke-width="2.0"/>
<rect x="1215.5" y="187.8" width="13.4" height="13.4" fill="#aaaaaa" stroke="#0d0d0d" stroke-width="2.0"/>
<rect x="1215.5" y="193.1" width="13.4" height="13.4" fill="#aaaaaa" stroke="#0d0d0d" stroke-width="2.0"/>
<rect x="1234.0" y="102.3" width="13.4" height="13.4" fill="#aaaaaa" stroke="#0d0d0d" stroke-width="2.0"/>
<rect x="1234.0" y="122.0" width="13.4" height="13.4" fill="#aaaaaa" stroke="#0d0d0d" stroke-width="2.0"/>
<rect x="1234.0" y="165.1" width="13.4" height="13.4" fill="#aaaaaa" stroke="#0d0d0d" stroke-width="2.0"/>
<rect x="1234.0" y="169.7" width="13.4" height="13.4" fill="#aaaaaa" stroke="#0d0d0d" stroke-width="2.0"/>
<rect x="1234.0" y="184.7" width="13.4" height="13.4" fill="#aaaaaa" stroke="#0d0d0d" stroke-width="2.0"/>
<rect x="1234.0" y="199.9" width="13.4" height="13.4" fill="#aaaaaa" stroke="#0d0d0d" stroke-width="2.0"/>
<rect x="1235.9" y="205.2" width="13.4" height="13.4" fill="#aaaaaa" stroke="#0d0d0d" stroke-width="2.0"/>
<rect x="1235.9" y="218.1" width="13.4" height="13.4" fill="#aaaaaa" stroke="#0d0d0d" stroke-width="2.0"/>
<rect x="1235.9" y="221.1" width="13.4" height="13.4" fill="#aaaaaa" stroke="#0d0d0d" stroke-width="2.0"/>
<rect x="1245.8" y="135.6" width="13.4" height="13.4" fill="#aaaaaa" stroke="#0d0d0d" stroke-width="2.0"/>
<rect x="1245.8" y="161.3" width="13.4" height="13.4" fill="#aaaaaa" stroke="#0d0d0d" stroke-width="2.0"/>
<rect x="1248.8" y="134.1" width="13.4" height="13.4" fill="#aaaaaa" stroke="#0d0d0d" stroke-width="2.0"/>
<rect x="1248.8" y="141.3" width="13.4" height="13.4" fill="#aaaaaa" stroke="#0d0d0d" stroke-width="2.0"/>
<rect x="1248.8" y="152.9" width="13.4" height="13.4" fill="#aaaaaa" stroke="#0d0d0d" stroke-width="2.0"/>
<rect x="1248.8" y="155.2" width="13.4" height="13.4" fill="#aaaaaa" stroke="#0d0d0d" stroke-width="2.0"/>
<rect x="1248.8" y="171.1" width="13.4" height="13.4" fill="#aaaaaa" stroke="#0d0d0d" stroke-width="2.0"/>
<rect x="1248.8" y="174.9" width="13.4" height="13.4" fill="#aaaaaa" stroke="#0d0d0d" stroke-width="2.0"/>
<rect x="1330.3" y="185.3" width="13.4" height="13.4" fill="#aaaaaa" stroke="#0d0d0d" stroke-width="2.0"/>
<rect x="1283.3" y="194.3" width="13.4" height="13.4" fill="#aaaaaa" stroke="#0d0d0d" stroke-width="2.0"/>
<rect x="1298.3" y="183.3" width="13.4" height="13.4" fill="#aaaaaa" stroke="#0d0d0d" stroke-width="2.0"/>
<rect x="1258.6" y="171.1" width="13.4" height="13.4" fill="#aaaaaa" stroke="#0d0d0d" stroke-width="2.0"/>
<rect x="1258.6" y="177.2" width="13.4" height="13.4" fill="#aaaaaa" stroke="#0d0d0d" stroke-width="2.0"/>
<rect x="1258.6" y="183.2" width="13.4" height="13.4" fill="#aaaaaa" stroke="#0d0d0d" stroke-width="2.0"/>
<rect x="1263.6" y="143.2" width="13.4" height="13.4" fill="#aaaaaa" stroke="#0d0d0d" stroke-width="2.0"/>
<rect x="1263.6" y="150.0" width="13.4" height="13.4" fill="#aaaaaa" stroke="#0d0d0d" stroke-width="2.0"/>
<rect x="1263.6" y="165.1" width="13.4" height="13.4" fill="#aaaaaa" stroke="#0d0d0d" stroke-width="2.0"/>
<rect x="1263.6" y="191.6" width="13.4" height="13.4" fill="#aaaaaa" stroke="#0d0d0d" stroke-width="2.0"/>
<rect x="1270.0" y="177.2" width="13.4" height="13.4" fill="#aaaaaa" stroke="#0d0d0d" stroke-width="2.0"/>
<rect x="1270.0" y="184.7" width="13.4" height="13.4" fill="#aaaaaa" stroke="#0d0d0d" stroke-width="2.0"/>
<rect x="1270.0" y="190.8" width="13.4" height="13.4" fill="#aaaaaa" stroke="#0d0d0d" stroke-width="2.0"/>
<rect x="1282.1" y="151.5" width="13.4" height="13.4" fill="#aaaaaa" stroke="#0d0d0d" stroke-width="2.0"/>
<rect x="1282.1" y="159.1" width="13.4" height="13.4" fill="#aaaaaa" stroke="#0d0d0d" stroke-width="2.0"/>
<rect x="1282.1" y="175.7" width="13.4" height="13.4" fill="#aaaaaa" stroke="#0d0d0d" stroke-width="2.0"/>
<rect x="1282.1" y="204.5" width="13.4" height="13.4" fill="#aaaaaa" stroke="#0d0d0d" stroke-width="2.0"/>
<rect x="1280.6" y="176.5" width="13.4" height="13.4" fill="#aaaaaa" stroke="#0d0d0d" stroke-width="2.0"/>
<rect x="1280.6" y="184.7" width="13.4" height="13.4" fill="#aaaaaa" stroke="#0d0d0d" stroke-width="2.0"/>
<rect x="1285.9" y="127.3" width="13.4" height="13.4" fill="#aaaaaa" stroke="#0d0d0d" stroke-width="2.0"/>
<rect x="1285.9" y="131.9" width="13.4" height="13.4" fill="#aaaaaa" stroke="#0d0d0d" stroke-width="2.0"/>
<rect x="1285.9" y="171.1" width="13.4" height="13.4" fill="#aaaaaa" stroke="#0d0d0d" stroke-width="2.0"/>
<rect x="1285.9" y="209.7" width="13.4" height="13.4" fill="#aaaaaa" stroke="#0d0d0d" stroke-width="2.0"/>
<rect x="1291.2" y="149.2" width="13.4" height="13.4" fill="#aaaaaa" stroke="#0d0d0d" stroke-width="2.0"/>
<rect x="1291.2" y="153.8" width="13.4" height="13.4" fill="#aaaaaa" stroke="#0d0d0d" stroke-width="2.0"/>
<rect x="1298.7" y="174.3" width="13.4" height="13.4" fill="#aaaaaa" stroke="#0d0d0d" stroke-width="2.0"/>
<rect x="1298.7" y="191.6" width="13.4" height="13.4" fill="#aaaaaa" stroke="#0d0d0d" stroke-width="2.0"/>
<rect x="1309.3" y="197.7" width="13.4" height="13.4" fill="#aaaaaa" stroke="#0d0d0d" stroke-width="2.0"/>
<rect x="1313.1" y="172.7" width="13.4" height="13.4" fill="#aaaaaa" stroke="#0d0d0d" stroke-width="2.0"/>
<rect x="1313.1" y="186.3" width="13.4" height="13.4" fill="#aaaaaa" stroke="#0d0d0d" stroke-width="2.0"/>
<rect x="1319.1" y="165.9" width="13.4" height="13.4" fill="#aaaaaa" stroke="#0d0d0d" stroke-width="2.0"/>
<rect x="1319.1" y="181.0" width="13.4" height="13.4" fill="#aaaaaa" stroke="#0d0d0d" stroke-width="2.0"/>
<rect x="1319.1" y="193.8" width="13.4" height="13.4" fill="#aaaaaa" stroke="#0d0d0d" stroke-width="2.0"/>
<rect x="1330.4" y="154.5" width="13.4" height="13.4" fill="#aaaaaa" stroke="#0d0d0d" stroke-width="2.0"/>
<rect x="1330.4" y="165.1" width="13.4" height="13.4" fill="#aaaaaa" stroke="#0d0d0d" stroke-width="2.0"/>
<rect x="1333.5" y="174.3" width="13.4" height="13.4" fill="#aaaaaa" stroke="#0d0d0d" stroke-width="2.0"/>
<rect x="1333.5" y="195.4" width="13.4" height="13.4" fill="#aaaaaa" stroke="#0d0d0d" stroke-width="2.0"/>
<rect x="1341.9" y="170.4" width="13.4" height="13.4" fill="#aaaaaa" stroke="#0d0d0d" stroke-width="2.0"/>
<rect x="1341.9" y="184.7" width="13.4" height="13.4" fill="#aaaaaa" stroke="#0d0d0d" stroke-width="2.0"/>
<rect x="1341.9" y="194.7" width="13.4" height="13.4" fill="#aaaaaa" stroke="#0d0d0d" stroke-width="2.0"/>
<rect x="1341.9" y="202.9" width="13.4" height="13.4" fill="#aaaaaa" stroke="#0d0d0d" stroke-width="2.0"/>
<rect x="1354.7" y="129.6" width="13.4" height="13.4" fill="#aaaaaa" stroke="#0d0d0d" stroke-width="2.0"/>
<rect x="1354.7" y="140.3" width="13.4" height="13.4" fill="#aaaaaa" stroke="#0d0d0d" stroke-width="2.0"/>
<rect x="1354.7" y="149.2" width="13.4" height="13.4" fill="#aaaaaa" stroke="#0d0d0d" stroke-width="2.0"/>
<rect x="1354.7" y="165.1" width="13.4" height="13.4" fill="#aaaaaa" stroke="#0d0d0d" stroke-width="2.0"/>
<rect x="1354.7" y="178.3" width="13.4" height="13.4" fill="#aaaaaa" stroke="#0d0d0d" stroke-width="2.0"/>
<rect x="1354.7" y="186.3" width="13.4" height="13.4" fill="#aaaaaa" stroke="#0d0d0d" stroke-width="2.0"/>
<rect x="1354.7" y="195.4" width="13.4" height="13.4" fill="#aaaaaa" stroke="#0d0d0d" stroke-width="2.0"/>
<rect x="1354.7" y="210.5" width="13.4" height="13.4" fill="#aaaaaa" stroke="#0d0d0d" stroke-width="2.0"/>
<rect x="1362.3" y="174.3" width="13.4" height="13.4" fill="#aaaaaa" stroke="#0d0d0d" stroke-width="2.0"/>
<rect x="1371.3" y="180.7" width="13.4" height="13.4" fill="#aaaaaa" stroke="#0d0d0d" stroke-width="2.0"/>
<rect x="1371.3" y="195.4" width="13.4" height="13.4" fill="#aaaaaa" stroke="#0d0d0d" stroke-width="2.0"/>
<rect x="1371.3" y="208.9" width="13.4" height="13.4" fill="#aaaaaa" stroke="#0d0d0d" stroke-width="2.0"/>
<rect x="1380.4" y="172.1" width="13.4" height="13.4" fill="#aaaaaa" stroke="#0d0d0d" stroke-width="2.0"/>
<rect x="1380.4" y="178.2" width="13.4" height="13.4" fill="#aaaaaa" stroke="#0d0d0d" stroke-width="2.0"/>
<rect x="1380.4" y="191.6" width="13.4" height="13.4" fill="#aaaaaa" stroke="#0d0d0d" stroke-width="2.0"/>
<line x1="719.3" y1="50.3" x2="1421.5" y2="50.3" stroke="#0a0a0a" stroke-width="2" />
<line x1="720.3" y1="50.3" x2="720.3" y2="446.8" stroke="#0a0a0a" stroke-width="2" />
<line x1="1420.5" y1="50.3" x2="1420.5" y2="446.8" stroke="#0a0a0a" stroke-width="2" />
<line x1="719.3" y1="446.8" x2="1421.5" y2="446.8" stroke="#0a0a0a" stroke-width="2" />
<line x1="720.3" y1="50.1" x2="730.5" y2="50.1" stroke="#0a0a0a" stroke-width="2" />
<text x="713.3" y="58.6" font-size="22.5" text-anchor="end" font-weight="normal" >10</text>
<line x1="720.3" y1="116.2" x2="730.5" y2="116.2" stroke="#0a0a0a" stroke-width="2" />
<text x="713.3" y="124.7" font-size="22.5" text-anchor="end" font-weight="normal" >5</text>
<line x1="720.3" y1="182.3" x2="730.5" y2="182.3" stroke="#0a0a0a" stroke-width="2" />
<text x="713.3" y="190.8" font-size="22.5" text-anchor="end" font-weight="normal" >0</text>
<line x1="720.3" y1="248.4" x2="730.5" y2="248.4" stroke="#0a0a0a" stroke-width="2" />
<text x="713.3" y="256.9" font-size="22.5" text-anchor="end" font-weight="normal" >–5</text>
<line x1="720.3" y1="314.5" x2="730.5" y2="314.5" stroke="#0a0a0a" stroke-width="2" />
<text x="713.3" y="323.0" font-size="22.5" text-anchor="end" font-weight="normal" >–10</text>
<line x1="720.3" y1="380.6" x2="730.5" y2="380.6" stroke="#0a0a0a" stroke-width="2" />
<text x="713.3" y="389.1" font-size="22.5" text-anchor="end" font-weight="normal" >–15</text>
<line x1="720.3" y1="446.7" x2="730.5" y2="446.7" stroke="#0a0a0a" stroke-width="2" />
<text x="713.3" y="455.2" font-size="22.5" text-anchor="end" font-weight="normal" >–20</text>
<line x1="757.9" y1="446.8" x2="757.9" y2="436.3" stroke="#0a0a0a" stroke-width="2" />
<text x="737.1" y="473.2" font-size="22.5" text-anchor="start" font-weight="normal" >30° S</text>
<line x1="852.5" y1="446.8" x2="852.5" y2="436.3" stroke="#0a0a0a" stroke-width="2" />
<text x="831.5" y="473.2" font-size="22.5" text-anchor="start" font-weight="normal" >20° S</text>
<line x1="947.2" y1="446.8" x2="947.2" y2="436.3" stroke="#0a0a0a" stroke-width="2" />
<text x="925.9" y="473.2" font-size="22.5" text-anchor="start" font-weight="normal" >10° S</text>
<line x1="1041.8" y1="446.8" x2="1041.8" y2="436.3" stroke="#0a0a0a" stroke-width="2" />
<text x="1035.1" y="473.2" font-size="22.5" text-anchor="start" font-weight="normal" >0°</text>
<line x1="1136.5" y1="446.8" x2="1136.5" y2="436.3" stroke="#0a0a0a" stroke-width="2" />
<text x="1114.3" y="473.2" font-size="22.5" text-anchor="start" font-weight="normal" >10° N</text>
<line x1="1231.1" y1="446.8" x2="1231.1" y2="436.3" stroke="#0a0a0a" stroke-width="2" />
<text x="1209.6" y="473.2" font-size="22.5" text-anchor="start" font-weight="normal" >20° N</text>
<line x1="1325.8" y1="446.8" x2="1325.8" y2="436.3" stroke="#0a0a0a" stroke-width="2" />
<text x="1303.4" y="473.2" font-size="22.5" text-anchor="start" font-weight="normal" >30° N</text>
<rect x="739.0" y="644.5" width="208.2" height="396.5" fill="#e9eaec"/>
<rect x="1231.1" y="644.5" width="170.4" height="396.5" fill="#e9eaec"/>
<line x1="720.3" y1="776.5" x2="1420.5" y2="776.5" stroke="#222" stroke-width="1.3" />
<line x1="1068.2" y1="785.0" x2="1068.2" y2="793.8" stroke="#0a0a0a" stroke-width="1.8" />
<line x1="1064.5" y1="785.0" x2="1072.0" y2="785.0" stroke="#0a0a0a" stroke-width="2" />
<line x1="1064.5" y1="793.8" x2="1072.0" y2="793.8" stroke="#0a0a0a" stroke-width="2" />
<line x1="1303.4" y1="784.6" x2="1303.4" y2="796.5" stroke="#0a0a0a" stroke-width="1.8" />
<line x1="1299.7" y1="784.6" x2="1307.2" y2="784.6" stroke="#0a0a0a" stroke-width="2" />
<line x1="1299.7" y1="796.5" x2="1307.2" y2="796.5" stroke="#0a0a0a" stroke-width="2" />
<line x1="1124.0" y1="791.0" x2="1124.0" y2="800.4" stroke="#0a0a0a" stroke-width="1.8" />
<line x1="1120.2" y1="791.0" x2="1127.8" y2="791.0" stroke="#0a0a0a" stroke-width="2" />
<line x1="1120.2" y1="800.4" x2="1127.8" y2="800.4" stroke="#0a0a0a" stroke-width="2" />
<rect x="741.3" y="764.3" width="13.4" height="13.4" fill="#6ccfe0" stroke="#0d0d0d" stroke-width="2.0"/>
<rect x="745.3" y="774.3" width="13.4" height="13.4" fill="#6ccfe0" stroke="#0d0d0d" stroke-width="2.0"/>
<rect x="749.3" y="764.3" width="13.4" height="13.4" fill="#6ccfe0" stroke="#0d0d0d" stroke-width="2.0"/>
<rect x="753.3" y="774.3" width="13.4" height="13.4" fill="#6ccfe0" stroke="#0d0d0d" stroke-width="2.0"/>
<rect x="757.3" y="764.3" width="13.4" height="13.4" fill="#6ccfe0" stroke="#0d0d0d" stroke-width="2.0"/>
<rect x="761.3" y="774.3" width="13.4" height="13.4" fill="#6ccfe0" stroke="#0d0d0d" stroke-width="2.0"/>
<rect x="765.3" y="764.3" width="13.4" height="13.4" fill="#6ccfe0" stroke="#0d0d0d" stroke-width="2.0"/>
<rect x="769.3" y="774.3" width="13.4" height="13.4" fill="#6ccfe0" stroke="#0d0d0d" stroke-width="2.0"/>
<rect x="773.3" y="764.3" width="13.4" height="13.4" fill="#6ccfe0" stroke="#0d0d0d" stroke-width="2.0"/>
<rect x="777.3" y="774.3" width="13.4" height="13.4" fill="#6ccfe0" stroke="#0d0d0d" stroke-width="2.0"/>
<rect x="781.3" y="764.3" width="13.4" height="13.4" fill="#6ccfe0" stroke="#0d0d0d" stroke-width="2.0"/>
<rect x="785.3" y="774.3" width="13.4" height="13.4" fill="#6ccfe0" stroke="#0d0d0d" stroke-width="2.0"/>
<rect x="789.3" y="764.3" width="13.4" height="13.4" fill="#6ccfe0" stroke="#0d0d0d" stroke-width="2.0"/>
<rect x="793.3" y="774.3" width="13.4" height="13.4" fill="#6ccfe0" stroke="#0d0d0d" stroke-width="2.0"/>
<rect x="797.3" y="764.3" width="13.4" height="13.4" fill="#6ccfe0" stroke="#0d0d0d" stroke-width="2.0"/>
<rect x="801.3" y="774.3" width="13.4" height="13.4" fill="#6ccfe0" stroke="#0d0d0d" stroke-width="2.0"/>
<rect x="805.3" y="764.3" width="13.4" height="13.4" fill="#6ccfe0" stroke="#0d0d0d" stroke-width="2.0"/>
<rect x="809.3" y="774.3" width="13.4" height="13.4" fill="#6ccfe0" stroke="#0d0d0d" stroke-width="2.0"/>
<rect x="813.3" y="764.3" width="13.4" height="13.4" fill="#6ccfe0" stroke="#0d0d0d" stroke-width="2.0"/>
<rect x="817.3" y="774.3" width="13.4" height="13.4" fill="#6ccfe0" stroke="#0d0d0d" stroke-width="2.0"/>
<rect x="821.3" y="764.3" width="13.4" height="13.4" fill="#6ccfe0" stroke="#0d0d0d" stroke-width="2.0"/>
<rect x="825.3" y="774.3" width="13.4" height="13.4" fill="#6ccfe0" stroke="#0d0d0d" stroke-width="2.0"/>
<rect x="829.3" y="764.3" width="13.4" height="13.4" fill="#6ccfe0" stroke="#0d0d0d" stroke-width="2.0"/>
<rect x="833.3" y="774.3" width="13.4" height="13.4" fill="#6ccfe0" stroke="#0d0d0d" stroke-width="2.0"/>
<rect x="837.3" y="764.3" width="13.4" height="13.4" fill="#6ccfe0" stroke="#0d0d0d" stroke-width="2.0"/>
<rect x="841.3" y="774.3" width="13.4" height="13.4" fill="#6ccfe0" stroke="#0d0d0d" stroke-width="2.0"/>
<rect x="845.3" y="764.3" width="13.4" height="13.4" fill="#6ccfe0" stroke="#0d0d0d" stroke-width="2.0"/>
<rect x="849.3" y="774.3" width="13.4" height="13.4" fill="#6ccfe0" stroke="#0d0d0d" stroke-width="2.0"/>
<rect x="853.3" y="764.3" width="13.4" height="13.4" fill="#6ccfe0" stroke="#0d0d0d" stroke-width="2.0"/>
<rect x="857.3" y="774.3" width="13.4" height="13.4" fill="#6ccfe0" stroke="#0d0d0d" stroke-width="2.0"/>
<rect x="861.3" y="764.3" width="13.4" height="13.4" fill="#6ccfe0" stroke="#0d0d0d" stroke-width="2.0"/>
<rect x="865.3" y="774.3" width="13.4" height="13.4" fill="#6ccfe0" stroke="#0d0d0d" stroke-width="2.0"/>
<rect x="869.3" y="764.3" width="13.4" height="13.4" fill="#6ccfe0" stroke="#0d0d0d" stroke-width="2.0"/>
<rect x="873.3" y="774.3" width="13.4" height="13.4" fill="#6ccfe0" stroke="#0d0d0d" stroke-width="2.0"/>
<rect x="877.3" y="764.3" width="13.4" height="13.4" fill="#6ccfe0" stroke="#0d0d0d" stroke-width="2.0"/>
<rect x="881.3" y="774.3" width="13.4" height="13.4" fill="#6ccfe0" stroke="#0d0d0d" stroke-width="2.0"/>
<rect x="885.3" y="764.3" width="13.4" height="13.4" fill="#6ccfe0" stroke="#0d0d0d" stroke-width="2.0"/>
<rect x="889.3" y="774.3" width="13.4" height="13.4" fill="#6ccfe0" stroke="#0d0d0d" stroke-width="2.0"/>
<rect x="893.3" y="764.3" width="13.4" height="13.4" fill="#6ccfe0" stroke="#0d0d0d" stroke-width="2.0"/>
<rect x="897.3" y="774.3" width="13.4" height="13.4" fill="#6ccfe0" stroke="#0d0d0d" stroke-width="2.0"/>
<rect x="901.3" y="764.3" width="13.4" height="13.4" fill="#6ccfe0" stroke="#0d0d0d" stroke-width="2.0"/>
<rect x="905.3" y="774.3" width="13.4" height="13.4" fill="#6ccfe0" stroke="#0d0d0d" stroke-width="2.0"/>
<rect x="909.3" y="764.3" width="13.4" height="13.4" fill="#6ccfe0" stroke="#0d0d0d" stroke-width="2.0"/>
<rect x="913.3" y="774.3" width="13.4" height="13.4" fill="#6ccfe0" stroke="#0d0d0d" stroke-width="2.0"/>
<rect x="917.3" y="764.3" width="13.4" height="13.4" fill="#6ccfe0" stroke="#0d0d0d" stroke-width="2.0"/>
<rect x="921.3" y="774.3" width="13.4" height="13.4" fill="#6ccfe0" stroke="#0d0d0d" stroke-width="2.0"/>
<rect x="925.3" y="764.3" width="13.4" height="13.4" fill="#6ccfe0" stroke="#0d0d0d" stroke-width="2.0"/>
<rect x="929.3" y="774.3" width="13.4" height="13.4" fill="#6ccfe0" stroke="#0d0d0d" stroke-width="2.0"/>
<rect x="933.3" y="764.3" width="13.4" height="13.4" fill="#6ccfe0" stroke="#0d0d0d" stroke-width="2.0"/>
<rect x="937.3" y="774.3" width="13.4" height="13.4" fill="#6ccfe0" stroke="#0d0d0d" stroke-width="2.0"/>
<rect x="941.3" y="764.3" width="13.4" height="13.4" fill="#6ccfe0" stroke="#0d0d0d" stroke-width="2.0"/>
<rect x="945.3" y="774.3" width="13.4" height="13.4" fill="#6ccfe0" stroke="#0d0d0d" stroke-width="2.0"/>
<rect x="949.3" y="764.3" width="13.4" height="13.4" fill="#6ccfe0" stroke="#0d0d0d" stroke-width="2.0"/>
<rect x="953.3" y="774.3" width="13.4" height="13.4" fill="#6ccfe0" stroke="#0d0d0d" stroke-width="2.0"/>
<rect x="1093.3" y="764.3" width="13.4" height="13.4" fill="#6ccfe0" stroke="#0d0d0d" stroke-width="2.0"/>
<rect x="1097.3" y="774.3" width="13.4" height="13.4" fill="#6ccfe0" stroke="#0d0d0d" stroke-width="2.0"/>
<rect x="1101.3" y="764.3" width="13.4" height="13.4" fill="#6ccfe0" stroke="#0d0d0d" stroke-width="2.0"/>
<rect x="1105.3" y="774.3" width="13.4" height="13.4" fill="#6ccfe0" stroke="#0d0d0d" stroke-width="2.0"/>
<rect x="1109.3" y="764.3" width="13.4" height="13.4" fill="#6ccfe0" stroke="#0d0d0d" stroke-width="2.0"/>
<rect x="1113.3" y="774.3" width="13.4" height="13.4" fill="#6ccfe0" stroke="#0d0d0d" stroke-width="2.0"/>
<rect x="1117.3" y="764.3" width="13.4" height="13.4" fill="#6ccfe0" stroke="#0d0d0d" stroke-width="2.0"/>
<rect x="1121.3" y="774.3" width="13.4" height="13.4" fill="#6ccfe0" stroke="#0d0d0d" stroke-width="2.0"/>
<rect x="1125.3" y="764.3" width="13.4" height="13.4" fill="#6ccfe0" stroke="#0d0d0d" stroke-width="2.0"/>
<rect x="1129.3" y="774.3" width="13.4" height="13.4" fill="#6ccfe0" stroke="#0d0d0d" stroke-width="2.0"/>
<rect x="1133.3" y="764.3" width="13.4" height="13.4" fill="#6ccfe0" stroke="#0d0d0d" stroke-width="2.0"/>
<rect x="1137.3" y="774.3" width="13.4" height="13.4" fill="#6ccfe0" stroke="#0d0d0d" stroke-width="2.0"/>
<rect x="1141.3" y="764.3" width="13.4" height="13.4" fill="#6ccfe0" stroke="#0d0d0d" stroke-width="2.0"/>
<rect x="1145.3" y="774.3" width="13.4" height="13.4" fill="#6ccfe0" stroke="#0d0d0d" stroke-width="2.0"/>
<rect x="1149.3" y="764.3" width="13.4" height="13.4" fill="#6ccfe0" stroke="#0d0d0d" stroke-width="2.0"/>
<rect x="1153.3" y="774.3" width="13.4" height="13.4" fill="#6ccfe0" stroke="#0d0d0d" stroke-width="2.0"/>
<rect x="1181.3" y="764.3" width="13.4" height="13.4" fill="#6ccfe0" stroke="#0d0d0d" stroke-width="2.0"/>
<rect x="1185.3" y="774.3" width="13.4" height="13.4" fill="#6ccfe0" stroke="#0d0d0d" stroke-width="2.0"/>
<rect x="1189.3" y="764.3" width="13.4" height="13.4" fill="#6ccfe0" stroke="#0d0d0d" stroke-width="2.0"/>
<rect x="1193.3" y="774.3" width="13.4" height="13.4" fill="#6ccfe0" stroke="#0d0d0d" stroke-width="2.0"/>
<rect x="1197.3" y="764.3" width="13.4" height="13.4" fill="#6ccfe0" stroke="#0d0d0d" stroke-width="2.0"/>
<rect x="1201.3" y="774.3" width="13.4" height="13.4" fill="#6ccfe0" stroke="#0d0d0d" stroke-width="2.0"/>
<rect x="1205.3" y="764.3" width="13.4" height="13.4" fill="#6ccfe0" stroke="#0d0d0d" stroke-width="2.0"/>
<rect x="1209.3" y="774.3" width="13.4" height="13.4" fill="#6ccfe0" stroke="#0d0d0d" stroke-width="2.0"/>
<rect x="1213.3" y="764.3" width="13.4" height="13.4" fill="#6ccfe0" stroke="#0d0d0d" stroke-width="2.0"/>
<rect x="1217.3" y="774.3" width="13.4" height="13.4" fill="#6ccfe0" stroke="#0d0d0d" stroke-width="2.0"/>
<rect x="1221.3" y="764.3" width="13.4" height="13.4" fill="#6ccfe0" stroke="#0d0d0d" stroke-width="2.0"/>
<rect x="1225.3" y="774.3" width="13.4" height="13.4" fill="#6ccfe0" stroke="#0d0d0d" stroke-width="2.0"/>
<rect x="1229.3" y="764.3" width="13.4" height="13.4" fill="#6ccfe0" stroke="#0d0d0d" stroke-width="2.0"/>
<rect x="1233.3" y="774.3" width="13.4" height="13.4" fill="#6ccfe0" stroke="#0d0d0d" stroke-width="2.0"/>
<rect x="1237.3" y="764.3" width="13.4" height="13.4" fill="#6ccfe0" stroke="#0d0d0d" stroke-width="2.0"/>
<rect x="1241.3" y="774.3" width="13.4" height="13.4" fill="#6ccfe0" stroke="#0d0d0d" stroke-width="2.0"/>
<rect x="1245.3" y="764.3" width="13.4" height="13.4" fill="#6ccfe0" stroke="#0d0d0d" stroke-width="2.0"/>
<rect x="1249.3" y="774.3" width="13.4" height="13.4" fill="#6ccfe0" stroke="#0d0d0d" stroke-width="2.0"/>
<rect x="1253.3" y="764.3" width="13.4" height="13.4" fill="#6ccfe0" stroke="#0d0d0d" stroke-width="2.0"/>
<rect x="1257.3" y="774.3" width="13.4" height="13.4" fill="#6ccfe0" stroke="#0d0d0d" stroke-width="2.0"/>
<rect x="1261.3" y="764.3" width="13.4" height="13.4" fill="#6ccfe0" stroke="#0d0d0d" stroke-width="2.0"/>
<rect x="1265.3" y="774.3" width="13.4" height="13.4" fill="#6ccfe0" stroke="#0d0d0d" stroke-width="2.0"/>
<rect x="1269.3" y="764.3" width="13.4" height="13.4" fill="#6ccfe0" stroke="#0d0d0d" stroke-width="2.0"/>
<rect x="1273.3" y="774.3" width="13.4" height="13.4" fill="#6ccfe0" stroke="#0d0d0d" stroke-width="2.0"/>
<rect x="1277.3" y="764.3" width="13.4" height="13.4" fill="#6ccfe0" stroke="#0d0d0d" stroke-width="2.0"/>
<rect x="1281.3" y="774.3" width="13.4" height="13.4" fill="#6ccfe0" stroke="#0d0d0d" stroke-width="2.0"/>
<rect x="1285.3" y="764.3" width="13.4" height="13.4" fill="#6ccfe0" stroke="#0d0d0d" stroke-width="2.0"/>
<rect x="1289.3" y="774.3" width="13.4" height="13.4" fill="#6ccfe0" stroke="#0d0d0d" stroke-width="2.0"/>
<rect x="1293.3" y="764.3" width="13.4" height="13.4" fill="#6ccfe0" stroke="#0d0d0d" stroke-width="2.0"/>
<rect x="1297.3" y="774.3" width="13.4" height="13.4" fill="#6ccfe0" stroke="#0d0d0d" stroke-width="2.0"/>
<rect x="1301.3" y="764.3" width="13.4" height="13.4" fill="#6ccfe0" stroke="#0d0d0d" stroke-width="2.0"/>
<rect x="1305.3" y="774.3" width="13.4" height="13.4" fill="#6ccfe0" stroke="#0d0d0d" stroke-width="2.0"/>
<rect x="1309.3" y="764.3" width="13.4" height="13.4" fill="#6ccfe0" stroke="#0d0d0d" stroke-width="2.0"/>
<rect x="1313.3" y="774.3" width="13.4" height="13.4" fill="#6ccfe0" stroke="#0d0d0d" stroke-width="2.0"/>
<rect x="1317.3" y="764.3" width="13.4" height="13.4" fill="#6ccfe0" stroke="#0d0d0d" stroke-width="2.0"/>
<rect x="1321.3" y="774.3" width="13.4" height="13.4" fill="#6ccfe0" stroke="#0d0d0d" stroke-width="2.0"/>
<rect x="1325.3" y="764.3" width="13.4" height="13.4" fill="#6ccfe0" stroke="#0d0d0d" stroke-width="2.0"/>
<rect x="1329.3" y="774.3" width="13.4" height="13.4" fill="#6ccfe0" stroke="#0d0d0d" stroke-width="2.0"/>
<rect x="1333.3" y="764.3" width="13.4" height="13.4" fill="#6ccfe0" stroke="#0d0d0d" stroke-width="2.0"/>
<rect x="1337.3" y="774.3" width="13.4" height="13.4" fill="#6ccfe0" stroke="#0d0d0d" stroke-width="2.0"/>
<rect x="1341.3" y="764.3" width="13.4" height="13.4" fill="#6ccfe0" stroke="#0d0d0d" stroke-width="2.0"/>
<rect x="1345.3" y="774.3" width="13.4" height="13.4" fill="#6ccfe0" stroke="#0d0d0d" stroke-width="2.0"/>
<rect x="1349.3" y="764.3" width="13.4" height="13.4" fill="#6ccfe0" stroke="#0d0d0d" stroke-width="2.0"/>
<rect x="1353.3" y="774.3" width="13.4" height="13.4" fill="#6ccfe0" stroke="#0d0d0d" stroke-width="2.0"/>
<rect x="1357.3" y="764.3" width="13.4" height="13.4" fill="#6ccfe0" stroke="#0d0d0d" stroke-width="2.0"/>
<rect x="1361.3" y="774.3" width="13.4" height="13.4" fill="#6ccfe0" stroke="#0d0d0d" stroke-width="2.0"/>
<rect x="1365.3" y="764.3" width="13.4" height="13.4" fill="#6ccfe0" stroke="#0d0d0d" stroke-width="2.0"/>
<rect x="1369.3" y="774.3" width="13.4" height="13.4" fill="#6ccfe0" stroke="#0d0d0d" stroke-width="2.0"/>
<rect x="1373.3" y="764.3" width="13.4" height="13.4" fill="#6ccfe0" stroke="#0d0d0d" stroke-width="2.0"/>
<rect x="1377.3" y="774.3" width="13.4" height="13.4" fill="#6ccfe0" stroke="#0d0d0d" stroke-width="2.0"/>
<rect x="1381.3" y="764.3" width="13.4" height="13.4" fill="#6ccfe0" stroke="#0d0d0d" stroke-width="2.0"/>
<rect x="1385.3" y="774.3" width="13.4" height="13.4" fill="#6ccfe0" stroke="#0d0d0d" stroke-width="2.0"/>
<rect x="743.9" y="749.4" width="13.4" height="13.4" fill="#6ccfe0" stroke="#0d0d0d" stroke-width="2.0"/>
<rect x="758.7" y="755.3" width="13.4" height="13.4" fill="#6ccfe0" stroke="#0d0d0d" stroke-width="2.0"/>
<rect x="759.2" y="758.9" width="13.4" height="13.4" fill="#6ccfe0" stroke="#0d0d0d" stroke-width="2.0"/>
<rect x="739.6" y="764.6" width="13.4" height="13.4" fill="#6ccfe0" stroke="#0d0d0d" stroke-width="2.0"/>
<rect x="740.1" y="768.2" width="13.4" height="13.4" fill="#6ccfe0" stroke="#0d0d0d" stroke-width="2.0"/>
<rect x="743.9" y="769.3" width="13.4" height="13.4" fill="#6ccfe0" stroke="#0d0d0d" stroke-width="2.0"/>
<rect x="744.4" y="772.9" width="13.4" height="13.4" fill="#6ccfe0" stroke="#0d0d0d" stroke-width="2.0"/>
<rect x="749.8" y="763.1" width="13.4" height="13.4" fill="#6ccfe0" stroke="#0d0d0d" stroke-width="2.0"/>
<rect x="750.3" y="766.7" width="13.4" height="13.4" fill="#6ccfe0" stroke="#0d0d0d" stroke-width="2.0"/>
<rect x="749.8" y="771.5" width="13.4" height="13.4" fill="#6ccfe0" stroke="#0d0d0d" stroke-width="2.0"/>
<rect x="750.3" y="767.9" width="13.4" height="13.4" fill="#6ccfe0" stroke="#0d0d0d" stroke-width="2.0"/>
<rect x="744.7" y="770.9" width="13.4" height="13.4" fill="#6ccfe0" stroke="#0d0d0d" stroke-width="2.0"/>
<rect x="745.2" y="767.3" width="13.4" height="13.4" fill="#6ccfe0" stroke="#0d0d0d" stroke-width="2.0"/>
<rect x="752.3" y="773.3" width="13.4" height="13.4" fill="#6ccfe0" stroke="#0d0d0d" stroke-width="2.0"/>
<rect x="752.8" y="769.7" width="13.4" height="13.4" fill="#6ccfe0" stroke="#0d0d0d" stroke-width="2.0"/>
<rect x="764.2" y="763.1" width="13.4" height="13.4" fill="#6ccfe0" stroke="#0d0d0d" stroke-width="2.0"/>
<rect x="764.7" y="766.7" width="13.4" height="13.4" fill="#6ccfe0" stroke="#0d0d0d" stroke-width="2.0"/>
<rect x="766.7" y="768.3" width="13.4" height="13.4" fill="#6ccfe0" stroke="#0d0d0d" stroke-width="2.0"/>
<rect x="767.2" y="771.9" width="13.4" height="13.4" fill="#6ccfe0" stroke="#0d0d0d" stroke-width="2.0"/>
<rect x="766.7" y="775.9" width="13.4" height="13.4" fill="#6ccfe0" stroke="#0d0d0d" stroke-width="2.0"/>
<rect x="767.2" y="772.3" width="13.4" height="13.4" fill="#6ccfe0" stroke="#0d0d0d" stroke-width="2.0"/>
<rect x="783.6" y="756.6" width="13.4" height="13.4" fill="#6ccfe0" stroke="#0d0d0d" stroke-width="2.0"/>
<rect x="784.1" y="760.2" width="13.4" height="13.4" fill="#6ccfe0" stroke="#0d0d0d" stroke-width="2.0"/>
<rect x="784.0" y="781.5" width="13.4" height="13.4" fill="#6ccfe0" stroke="#0d0d0d" stroke-width="2.0"/>
<rect x="784.5" y="777.9" width="13.4" height="13.4" fill="#6ccfe0" stroke="#0d0d0d" stroke-width="2.0"/>
<rect x="787.8" y="762.0" width="13.4" height="13.4" fill="#6ccfe0" stroke="#0d0d0d" stroke-width="2.0"/>
<rect x="788.3" y="765.6" width="13.4" height="13.4" fill="#6ccfe0" stroke="#0d0d0d" stroke-width="2.0"/>
<rect x="792.0" y="766.2" width="13.4" height="13.4" fill="#6ccfe0" stroke="#0d0d0d" stroke-width="2.0"/>
<rect x="792.5" y="769.8" width="13.4" height="13.4" fill="#6ccfe0" stroke="#0d0d0d" stroke-width="2.0"/>
<rect x="792.0" y="770.9" width="13.4" height="13.4" fill="#6ccfe0" stroke="#0d0d0d" stroke-width="2.0"/>
<rect x="792.5" y="767.3" width="13.4" height="13.4" fill="#6ccfe0" stroke="#0d0d0d" stroke-width="2.0"/>
<rect x="784.4" y="767.5" width="13.4" height="13.4" fill="#6ccfe0" stroke="#0d0d0d" stroke-width="2.0"/>
<rect x="784.9" y="771.1" width="13.4" height="13.4" fill="#6ccfe0" stroke="#0d0d0d" stroke-width="2.0"/>
<rect x="809.7" y="761.6" width="13.4" height="13.4" fill="#6ccfe0" stroke="#0d0d0d" stroke-width="2.0"/>
<rect x="810.2" y="765.2" width="13.4" height="13.4" fill="#6ccfe0" stroke="#0d0d0d" stroke-width="2.0"/>
<rect x="808.1" y="772.6" width="13.4" height="13.4" fill="#6ccfe0" stroke="#0d0d0d" stroke-width="2.0"/>
<rect x="808.6" y="769.0" width="13.4" height="13.4" fill="#6ccfe0" stroke="#0d0d0d" stroke-width="2.0"/>
<rect x="816.9" y="759.5" width="13.4" height="13.4" fill="#6ccfe0" stroke="#0d0d0d" stroke-width="2.0"/>
<rect x="817.4" y="763.1" width="13.4" height="13.4" fill="#6ccfe0" stroke="#0d0d0d" stroke-width="2.0"/>
<rect x="817.3" y="766.7" width="13.4" height="13.4" fill="#6ccfe0" stroke="#0d0d0d" stroke-width="2.0"/>
<rect x="817.8" y="770.3" width="13.4" height="13.4" fill="#6ccfe0" stroke="#0d0d0d" stroke-width="2.0"/>
<rect x="817.8" y="775.1" width="13.4" height="13.4" fill="#6ccfe0" stroke="#0d0d0d" stroke-width="2.0"/>
<rect x="818.3" y="771.5" width="13.4" height="13.4" fill="#6ccfe0" stroke="#0d0d0d" stroke-width="2.0"/>
<rect x="836.7" y="768.0" width="13.4" height="13.4" fill="#6ccfe0" stroke="#0d0d0d" stroke-width="2.0"/>
<rect x="837.2" y="771.6" width="13.4" height="13.4" fill="#6ccfe0" stroke="#0d0d0d" stroke-width="2.0"/>
<rect x="846.2" y="767.5" width="13.4" height="13.4" fill="#6ccfe0" stroke="#0d0d0d" stroke-width="2.0"/>
<rect x="846.7" y="771.1" width="13.4" height="13.4" fill="#6ccfe0" stroke="#0d0d0d" stroke-width="2.0"/>
<rect x="836.7" y="773.4" width="13.4" height="13.4" fill="#6ccfe0" stroke="#0d0d0d" stroke-width="2.0"/>
<rect x="837.2" y="769.8" width="13.4" height="13.4" fill="#6ccfe0" stroke="#0d0d0d" stroke-width="2.0"/>
<rect x="845.1" y="765.3" width="13.4" height="13.4" fill="#6ccfe0" stroke="#0d0d0d" stroke-width="2.0"/>
<rect x="845.6" y="768.9" width="13.4" height="13.4" fill="#6ccfe0" stroke="#0d0d0d" stroke-width="2.0"/>
<rect x="845.1" y="773.3" width="13.4" height="13.4" fill="#6ccfe0" stroke="#0d0d0d" stroke-width="2.0"/>
<rect x="845.6" y="769.7" width="13.4" height="13.4" fill="#6ccfe0" stroke="#0d0d0d" stroke-width="2.0"/>
<rect x="859.9" y="763.0" width="13.4" height="13.4" fill="#6ccfe0" stroke="#0d0d0d" stroke-width="2.0"/>
<rect x="860.4" y="766.6" width="13.4" height="13.4" fill="#6ccfe0" stroke="#0d0d0d" stroke-width="2.0"/>
<rect x="859.9" y="776.3" width="13.4" height="13.4" fill="#6ccfe0" stroke="#0d0d0d" stroke-width="2.0"/>
<rect x="860.4" y="772.7" width="13.4" height="13.4" fill="#6ccfe0" stroke="#0d0d0d" stroke-width="2.0"/>
<rect x="854.8" y="784.3" width="13.4" height="13.4" fill="#6ccfe0" stroke="#0d0d0d" stroke-width="2.0"/>
<rect x="869.6" y="768.3" width="13.4" height="13.4" fill="#6ccfe0" stroke="#0d0d0d" stroke-width="2.0"/>
<rect x="870.1" y="771.9" width="13.4" height="13.4" fill="#6ccfe0" stroke="#0d0d0d" stroke-width="2.0"/>
<rect x="874.7" y="770.3" width="13.4" height="13.4" fill="#6ccfe0" stroke="#0d0d0d" stroke-width="2.0"/>
<rect x="875.2" y="766.7" width="13.4" height="13.4" fill="#6ccfe0" stroke="#0d0d0d" stroke-width="2.0"/>
<rect x="885.6" y="773.3" width="13.4" height="13.4" fill="#6ccfe0" stroke="#0d0d0d" stroke-width="2.0"/>
<rect x="886.1" y="769.7" width="13.4" height="13.4" fill="#6ccfe0" stroke="#0d0d0d" stroke-width="2.0"/>
<rect x="890.7" y="766.6" width="13.4" height="13.4" fill="#6ccfe0" stroke="#0d0d0d" stroke-width="2.0"/>
<rect x="891.2" y="770.2" width="13.4" height="13.4" fill="#6ccfe0" stroke="#0d0d0d" stroke-width="2.0"/>
<rect x="906.7" y="767.9" width="13.4" height="13.4" fill="#6ccfe0" stroke="#0d0d0d" stroke-width="2.0"/>
<rect x="907.2" y="771.5" width="13.4" height="13.4" fill="#6ccfe0" stroke="#0d0d0d" stroke-width="2.0"/>
<rect x="906.7" y="775.8" width="13.4" height="13.4" fill="#6ccfe0" stroke="#0d0d0d" stroke-width="2.0"/>
<rect x="907.2" y="772.2" width="13.4" height="13.4" fill="#6ccfe0" stroke="#0d0d0d" stroke-width="2.0"/>
<rect x="912.6" y="777.2" width="13.4" height="13.4" fill="#6ccfe0" stroke="#0d0d0d" stroke-width="2.0"/>
<rect x="913.1" y="773.6" width="13.4" height="13.4" fill="#6ccfe0" stroke="#0d0d0d" stroke-width="2.0"/>
<rect x="925.3" y="763.0" width="13.4" height="13.4" fill="#6ccfe0" stroke="#0d0d0d" stroke-width="2.0"/>
<rect x="925.8" y="766.6" width="13.4" height="13.4" fill="#6ccfe0" stroke="#0d0d0d" stroke-width="2.0"/>
<rect x="925.3" y="770.9" width="13.4" height="13.4" fill="#6ccfe0" stroke="#0d0d0d" stroke-width="2.0"/>
<rect x="925.8" y="767.3" width="13.4" height="13.4" fill="#6ccfe0" stroke="#0d0d0d" stroke-width="2.0"/>
<rect x="925.3" y="775.8" width="13.4" height="13.4" fill="#6ccfe0" stroke="#0d0d0d" stroke-width="2.0"/>
<rect x="925.8" y="772.2" width="13.4" height="13.4" fill="#6ccfe0" stroke="#0d0d0d" stroke-width="2.0"/>
<rect x="936.7" y="762.2" width="13.4" height="13.4" fill="#6ccfe0" stroke="#0d0d0d" stroke-width="2.0"/>
<rect x="937.2" y="765.8" width="13.4" height="13.4" fill="#6ccfe0" stroke="#0d0d0d" stroke-width="2.0"/>
<rect x="936.7" y="768.7" width="13.4" height="13.4" fill="#6ccfe0" stroke="#0d0d0d" stroke-width="2.0"/>
<rect x="937.2" y="772.3" width="13.4" height="13.4" fill="#6ccfe0" stroke="#0d0d0d" stroke-width="2.0"/>
<rect x="948.9" y="769.6" width="13.4" height="13.4" fill="#6ccfe0" stroke="#0d0d0d" stroke-width="2.0"/>
<rect x="949.4" y="773.2" width="13.4" height="13.4" fill="#6ccfe0" stroke="#0d0d0d" stroke-width="2.0"/>
<rect x="950.3" y="765.3" width="13.4" height="13.4" fill="#6ccfe0" stroke="#0d0d0d" stroke-width="2.0"/>
<rect x="950.8" y="768.9" width="13.4" height="13.4" fill="#6ccfe0" stroke="#0d0d0d" stroke-width="2.0"/>
<rect x="958.9" y="760.7" width="13.4" height="13.4" fill="#6ccfe0" stroke="#0d0d0d" stroke-width="2.0"/>
<rect x="959.4" y="764.3" width="13.4" height="13.4" fill="#6ccfe0" stroke="#0d0d0d" stroke-width="2.0"/>
<rect x="958.9" y="770.3" width="13.4" height="13.4" fill="#6ccfe0" stroke="#0d0d0d" stroke-width="2.0"/>
<rect x="959.4" y="766.7" width="13.4" height="13.4" fill="#6ccfe0" stroke="#0d0d0d" stroke-width="2.0"/>
<rect x="966.8" y="747.2" width="13.4" height="13.4" fill="#6ccfe0" stroke="#0d0d0d" stroke-width="2.0"/>
<rect x="966.8" y="751.1" width="13.4" height="13.4" fill="#6ccfe0" stroke="#0d0d0d" stroke-width="2.0"/>
<rect x="966.8" y="759.6" width="13.4" height="13.4" fill="#6ccfe0" stroke="#0d0d0d" stroke-width="2.0"/>
<rect x="967.3" y="763.2" width="13.4" height="13.4" fill="#6ccfe0" stroke="#0d0d0d" stroke-width="2.0"/>
<rect x="966.8" y="784.3" width="13.4" height="13.4" fill="#6ccfe0" stroke="#0d0d0d" stroke-width="2.0"/>
<rect x="951.6" y="773.6" width="13.4" height="13.4" fill="#6ccfe0" stroke="#0d0d0d" stroke-width="2.0"/>
<rect x="952.1" y="770.0" width="13.4" height="13.4" fill="#6ccfe0" stroke="#0d0d0d" stroke-width="2.0"/>
<rect x="991.6" y="762.4" width="13.4" height="13.4" fill="#6ccfe0" stroke="#0d0d0d" stroke-width="2.0"/>
<rect x="992.1" y="766.0" width="13.4" height="13.4" fill="#6ccfe0" stroke="#0d0d0d" stroke-width="2.0"/>
<rect x="991.6" y="765.8" width="13.4" height="13.4" fill="#6ccfe0" stroke="#0d0d0d" stroke-width="2.0"/>
<rect x="992.1" y="769.4" width="13.4" height="13.4" fill="#6ccfe0" stroke="#0d0d0d" stroke-width="2.0"/>
<rect x="991.6" y="773.1" width="13.4" height="13.4" fill="#6ccfe0" stroke="#0d0d0d" stroke-width="2.0"/>
<rect x="992.1" y="769.5" width="13.4" height="13.4" fill="#6ccfe0" stroke="#0d0d0d" stroke-width="2.0"/>
<rect x="991.6" y="779.3" width="13.4" height="13.4" fill="#6ccfe0" stroke="#0d0d0d" stroke-width="2.0"/>
<rect x="992.1" y="775.7" width="13.4" height="13.4" fill="#6ccfe0" stroke="#0d0d0d" stroke-width="2.0"/>
<rect x="991.6" y="787.7" width="13.4" height="13.4" fill="#6ccfe0" stroke="#0d0d0d" stroke-width="2.0"/>
<rect x="1015.2" y="712.9" width="13.4" height="13.4" fill="#6ccfe0" stroke="#0d0d0d" stroke-width="2.0"/>
<rect x="1023.6" y="727.5" width="13.4" height="13.4" fill="#6ccfe0" stroke="#0d0d0d" stroke-width="2.0"/>
<rect x="1023.6" y="736.5" width="13.4" height="13.4" fill="#6ccfe0" stroke="#0d0d0d" stroke-width="2.0"/>
<rect x="1015.2" y="734.3" width="13.4" height="13.4" fill="#6ccfe0" stroke="#0d0d0d" stroke-width="2.0"/>
<rect x="1015.2" y="741.6" width="13.4" height="13.4" fill="#6ccfe0" stroke="#0d0d0d" stroke-width="2.0"/>
<rect x="1015.8" y="761.6" width="13.4" height="13.4" fill="#6ccfe0" stroke="#0d0d0d" stroke-width="2.0"/>
<rect x="1016.3" y="765.2" width="13.4" height="13.4" fill="#6ccfe0" stroke="#0d0d0d" stroke-width="2.0"/>
<rect x="1018.0" y="765.7" width="13.4" height="13.4" fill="#6ccfe0" stroke="#0d0d0d" stroke-width="2.0"/>
<rect x="1018.5" y="769.3" width="13.4" height="13.4" fill="#6ccfe0" stroke="#0d0d0d" stroke-width="2.0"/>
<rect x="1018.0" y="778.1" width="13.4" height="13.4" fill="#6ccfe0" stroke="#0d0d0d" stroke-width="2.0"/>
<rect x="1018.5" y="774.5" width="13.4" height="13.4" fill="#6ccfe0" stroke="#0d0d0d" stroke-width="2.0"/>
<rect x="1018.0" y="780.3" width="13.4" height="13.4" fill="#6ccfe0" stroke="#0d0d0d" stroke-width="2.0"/>
<rect x="1018.5" y="776.7" width="13.4" height="13.4" fill="#6ccfe0" stroke="#0d0d0d" stroke-width="2.0"/>
<rect x="1032.1" y="764.6" width="13.4" height="13.4" fill="#6ccfe0" stroke="#0d0d0d" stroke-width="2.0"/>
<rect x="1032.6" y="768.2" width="13.4" height="13.4" fill="#6ccfe0" stroke="#0d0d0d" stroke-width="2.0"/>
<rect x="1032.1" y="773.6" width="13.4" height="13.4" fill="#6ccfe0" stroke="#0d0d0d" stroke-width="2.0"/>
<rect x="1032.6" y="770.0" width="13.4" height="13.4" fill="#6ccfe0" stroke="#0d0d0d" stroke-width="2.0"/>
<rect x="1022.5" y="787.7" width="13.4" height="13.4" fill="#6ccfe0" stroke="#0d0d0d" stroke-width="2.0"/>
<rect x="1056.3" y="727.5" width="13.4" height="13.4" fill="#6ccfe0" stroke="#0d0d0d" stroke-width="2.0"/>
<rect x="1056.3" y="741.6" width="13.4" height="13.4" fill="#6ccfe0" stroke="#0d0d0d" stroke-width="2.0"/>
<rect x="1056.3" y="743.8" width="13.4" height="13.4" fill="#6ccfe0" stroke="#0d0d0d" stroke-width="2.0"/>
<rect x="1046.1" y="758.5" width="13.4" height="13.4" fill="#6ccfe0" stroke="#0d0d0d" stroke-width="2.0"/>
<rect x="1046.6" y="762.1" width="13.4" height="13.4" fill="#6ccfe0" stroke="#0d0d0d" stroke-width="2.0"/>
<rect x="1046.1" y="771.4" width="13.4" height="13.4" fill="#6ccfe0" stroke="#0d0d0d" stroke-width="2.0"/>
<rect x="1046.6" y="767.8" width="13.4" height="13.4" fill="#6ccfe0" stroke="#0d0d0d" stroke-width="2.0"/>
<rect x="1060.2" y="759.0" width="13.4" height="13.4" fill="#6ccfe0" stroke="#0d0d0d" stroke-width="2.0"/>
<rect x="1060.7" y="762.6" width="13.4" height="13.4" fill="#6ccfe0" stroke="#0d0d0d" stroke-width="2.0"/>
<rect x="1060.2" y="772.5" width="13.4" height="13.4" fill="#6ccfe0" stroke="#0d0d0d" stroke-width="2.0"/>
<rect x="1060.7" y="768.9" width="13.4" height="13.4" fill="#6ccfe0" stroke="#0d0d0d" stroke-width="2.0"/>
<rect x="1074.3" y="758.5" width="13.4" height="13.4" fill="#6ccfe0" stroke="#0d0d0d" stroke-width="2.0"/>
<rect x="1074.8" y="762.1" width="13.4" height="13.4" fill="#6ccfe0" stroke="#0d0d0d" stroke-width="2.0"/>
<rect x="1074.3" y="768.0" width="13.4" height="13.4" fill="#6ccfe0" stroke="#0d0d0d" stroke-width="2.0"/>
<rect x="1074.8" y="771.6" width="13.4" height="13.4" fill="#6ccfe0" stroke="#0d0d0d" stroke-width="2.0"/>
<rect x="1078.8" y="795.0" width="13.4" height="13.4" fill="#6ccfe0" stroke="#0d0d0d" stroke-width="2.0"/>
<rect x="1092.3" y="751.1" width="13.4" height="13.4" fill="#6ccfe0" stroke="#0d0d0d" stroke-width="2.0"/>
<rect x="1092.3" y="761.3" width="13.4" height="13.4" fill="#6ccfe0" stroke="#0d0d0d" stroke-width="2.0"/>
<rect x="1092.8" y="764.9" width="13.4" height="13.4" fill="#6ccfe0" stroke="#0d0d0d" stroke-width="2.0"/>
<rect x="1092.3" y="770.8" width="13.4" height="13.4" fill="#6ccfe0" stroke="#0d0d0d" stroke-width="2.0"/>
<rect x="1092.8" y="767.2" width="13.4" height="13.4" fill="#6ccfe0" stroke="#0d0d0d" stroke-width="2.0"/>
<rect x="1086.1" y="776.7" width="13.4" height="13.4" fill="#6ccfe0" stroke="#0d0d0d" stroke-width="2.0"/>
<rect x="1086.6" y="773.1" width="13.4" height="13.4" fill="#6ccfe0" stroke="#0d0d0d" stroke-width="2.0"/>
<rect x="1106.3" y="754.5" width="13.4" height="13.4" fill="#6ccfe0" stroke="#0d0d0d" stroke-width="2.0"/>
<rect x="1106.8" y="758.1" width="13.4" height="13.4" fill="#6ccfe0" stroke="#0d0d0d" stroke-width="2.0"/>
<rect x="1106.3" y="779.3" width="13.4" height="13.4" fill="#6ccfe0" stroke="#0d0d0d" stroke-width="2.0"/>
<rect x="1106.8" y="775.7" width="13.4" height="13.4" fill="#6ccfe0" stroke="#0d0d0d" stroke-width="2.0"/>
<rect x="1098.3" y="751.4" width="13.4" height="13.4" fill="#6ccfe0" stroke="#0d0d0d" stroke-width="2.0"/>
<rect x="1098.3" y="759.3" width="13.4" height="13.4" fill="#6ccfe0" stroke="#0d0d0d" stroke-width="2.0"/>
<rect x="1098.8" y="762.9" width="13.4" height="13.4" fill="#6ccfe0" stroke="#0d0d0d" stroke-width="2.0"/>
<rect x="1098.3" y="771.1" width="13.4" height="13.4" fill="#6ccfe0" stroke="#0d0d0d" stroke-width="2.0"/>
<rect x="1098.8" y="767.5" width="13.4" height="13.4" fill="#6ccfe0" stroke="#0d0d0d" stroke-width="2.0"/>
<rect x="1106.1" y="753.7" width="13.4" height="13.4" fill="#6ccfe0" stroke="#0d0d0d" stroke-width="2.0"/>
<rect x="1106.6" y="757.3" width="13.4" height="13.4" fill="#6ccfe0" stroke="#0d0d0d" stroke-width="2.0"/>
<rect x="1106.1" y="767.7" width="13.4" height="13.4" fill="#6ccfe0" stroke="#0d0d0d" stroke-width="2.0"/>
<rect x="1106.6" y="771.3" width="13.4" height="13.4" fill="#6ccfe0" stroke="#0d0d0d" stroke-width="2.0"/>
<rect x="1112.3" y="759.3" width="13.4" height="13.4" fill="#6ccfe0" stroke="#0d0d0d" stroke-width="2.0"/>
<rect x="1112.8" y="762.9" width="13.4" height="13.4" fill="#6ccfe0" stroke="#0d0d0d" stroke-width="2.0"/>
<rect x="1112.3" y="779.0" width="13.4" height="13.4" fill="#6ccfe0" stroke="#0d0d0d" stroke-width="2.0"/>
<rect x="1112.8" y="775.4" width="13.4" height="13.4" fill="#6ccfe0" stroke="#0d0d0d" stroke-width="2.0"/>
<rect x="1107.3" y="780.1" width="13.4" height="13.4" fill="#6ccfe0" stroke="#0d0d0d" stroke-width="2.0"/>
<rect x="1107.8" y="776.5" width="13.4" height="13.4" fill="#6ccfe0" stroke="#0d0d0d" stroke-width="2.0"/>
<rect x="1117.3" y="784.6" width="13.4" height="13.4" fill="#6ccfe0" stroke="#0d0d0d" stroke-width="2.0"/>
<rect x="1121.3" y="759.9" width="13.4" height="13.4" fill="#6ccfe0" stroke="#0d0d0d" stroke-width="2.0"/>
<rect x="1121.8" y="763.5" width="13.4" height="13.4" fill="#6ccfe0" stroke="#0d0d0d" stroke-width="2.0"/>
<rect x="1127.5" y="752.0" width="13.4" height="13.4" fill="#6ccfe0" stroke="#0d0d0d" stroke-width="2.0"/>
<rect x="1127.5" y="763.8" width="13.4" height="13.4" fill="#6ccfe0" stroke="#0d0d0d" stroke-width="2.0"/>
<rect x="1128.0" y="767.4" width="13.4" height="13.4" fill="#6ccfe0" stroke="#0d0d0d" stroke-width="2.0"/>
<rect x="1127.5" y="776.2" width="13.4" height="13.4" fill="#6ccfe0" stroke="#0d0d0d" stroke-width="2.0"/>
<rect x="1128.0" y="772.6" width="13.4" height="13.4" fill="#6ccfe0" stroke="#0d0d0d" stroke-width="2.0"/>
<rect x="1137.6" y="761.0" width="13.4" height="13.4" fill="#6ccfe0" stroke="#0d0d0d" stroke-width="2.0"/>
<rect x="1138.1" y="764.6" width="13.4" height="13.4" fill="#6ccfe0" stroke="#0d0d0d" stroke-width="2.0"/>
<rect x="1137.6" y="783.5" width="13.4" height="13.4" fill="#6ccfe0" stroke="#0d0d0d" stroke-width="2.0"/>
<rect x="1137.6" y="799.1" width="13.4" height="13.4" fill="#6ccfe0" stroke="#0d0d0d" stroke-width="2.0"/>
<rect x="1151.7" y="759.3" width="13.4" height="13.4" fill="#6ccfe0" stroke="#0d0d0d" stroke-width="2.0"/>
<rect x="1152.2" y="762.9" width="13.4" height="13.4" fill="#6ccfe0" stroke="#0d0d0d" stroke-width="2.0"/>
<rect x="1151.7" y="774.5" width="13.4" height="13.4" fill="#6ccfe0" stroke="#0d0d0d" stroke-width="2.0"/>
<rect x="1152.2" y="770.9" width="13.4" height="13.4" fill="#6ccfe0" stroke="#0d0d0d" stroke-width="2.0"/>
<rect x="1155.6" y="783.5" width="13.4" height="13.4" fill="#6ccfe0" stroke="#0d0d0d" stroke-width="2.0"/>
<rect x="1155.3" y="761.3" width="13.4" height="13.4" fill="#6ccfe0" stroke="#0d0d0d" stroke-width="2.0"/>
<rect x="1155.8" y="764.9" width="13.4" height="13.4" fill="#6ccfe0" stroke="#0d0d0d" stroke-width="2.0"/>
<rect x="1155.3" y="773.3" width="13.4" height="13.4" fill="#6ccfe0" stroke="#0d0d0d" stroke-width="2.0"/>
<rect x="1155.8" y="769.7" width="13.4" height="13.4" fill="#6ccfe0" stroke="#0d0d0d" stroke-width="2.0"/>
<rect x="1178.1" y="763.8" width="13.4" height="13.4" fill="#6ccfe0" stroke="#0d0d0d" stroke-width="2.0"/>
<rect x="1178.6" y="767.4" width="13.4" height="13.4" fill="#6ccfe0" stroke="#0d0d0d" stroke-width="2.0"/>
<rect x="1178.1" y="775.6" width="13.4" height="13.4" fill="#6ccfe0" stroke="#0d0d0d" stroke-width="2.0"/>
<rect x="1178.6" y="772.0" width="13.4" height="13.4" fill="#6ccfe0" stroke="#0d0d0d" stroke-width="2.0"/>
<rect x="1191.6" y="767.2" width="13.4" height="13.4" fill="#6ccfe0" stroke="#0d0d0d" stroke-width="2.0"/>
<rect x="1192.1" y="770.8" width="13.4" height="13.4" fill="#6ccfe0" stroke="#0d0d0d" stroke-width="2.0"/>
<rect x="1191.6" y="776.7" width="13.4" height="13.4" fill="#6ccfe0" stroke="#0d0d0d" stroke-width="2.0"/>
<rect x="1192.1" y="773.1" width="13.4" height="13.4" fill="#6ccfe0" stroke="#0d0d0d" stroke-width="2.0"/>
<rect x="1203.4" y="766.6" width="13.4" height="13.4" fill="#6ccfe0" stroke="#0d0d0d" stroke-width="2.0"/>
<rect x="1203.9" y="770.2" width="13.4" height="13.4" fill="#6ccfe0" stroke="#0d0d0d" stroke-width="2.0"/>
<rect x="1203.4" y="776.7" width="13.4" height="13.4" fill="#6ccfe0" stroke="#0d0d0d" stroke-width="2.0"/>
<rect x="1203.9" y="773.1" width="13.4" height="13.4" fill="#6ccfe0" stroke="#0d0d0d" stroke-width="2.0"/>
<rect x="1214.1" y="764.9" width="13.4" height="13.4" fill="#6ccfe0" stroke="#0d0d0d" stroke-width="2.0"/>
<rect x="1214.6" y="768.5" width="13.4" height="13.4" fill="#6ccfe0" stroke="#0d0d0d" stroke-width="2.0"/>
<rect x="1214.1" y="771.8" width="13.4" height="13.4" fill="#6ccfe0" stroke="#0d0d0d" stroke-width="2.0"/>
<rect x="1214.6" y="768.2" width="13.4" height="13.4" fill="#6ccfe0" stroke="#0d0d0d" stroke-width="2.0"/>
<rect x="1229.9" y="766.6" width="13.4" height="13.4" fill="#6ccfe0" stroke="#0d0d0d" stroke-width="2.0"/>
<rect x="1230.4" y="770.2" width="13.4" height="13.4" fill="#6ccfe0" stroke="#0d0d0d" stroke-width="2.0"/>
<rect x="1229.9" y="775.6" width="13.4" height="13.4" fill="#6ccfe0" stroke="#0d0d0d" stroke-width="2.0"/>
<rect x="1230.4" y="772.0" width="13.4" height="13.4" fill="#6ccfe0" stroke="#0d0d0d" stroke-width="2.0"/>
<rect x="1236.7" y="781.3" width="13.4" height="13.4" fill="#6ccfe0" stroke="#0d0d0d" stroke-width="2.0"/>
<rect x="1237.2" y="777.7" width="13.4" height="13.4" fill="#6ccfe0" stroke="#0d0d0d" stroke-width="2.0"/>
<rect x="1243.1" y="762.1" width="13.4" height="13.4" fill="#6ccfe0" stroke="#0d0d0d" stroke-width="2.0"/>
<rect x="1243.6" y="765.7" width="13.4" height="13.4" fill="#6ccfe0" stroke="#0d0d0d" stroke-width="2.0"/>
<rect x="1243.1" y="767.7" width="13.4" height="13.4" fill="#6ccfe0" stroke="#0d0d0d" stroke-width="2.0"/>
<rect x="1243.6" y="771.3" width="13.4" height="13.4" fill="#6ccfe0" stroke="#0d0d0d" stroke-width="2.0"/>
<rect x="1252.7" y="743.6" width="13.4" height="13.4" fill="#6ccfe0" stroke="#0d0d0d" stroke-width="2.0"/>
<rect x="1252.7" y="757.6" width="13.4" height="13.4" fill="#6ccfe0" stroke="#0d0d0d" stroke-width="2.0"/>
<rect x="1253.2" y="761.2" width="13.4" height="13.4" fill="#6ccfe0" stroke="#0d0d0d" stroke-width="2.0"/>
<rect x="1252.7" y="792.5" width="13.4" height="13.4" fill="#6ccfe0" stroke="#0d0d0d" stroke-width="2.0"/>
<rect x="1252.3" y="770.0" width="13.4" height="13.4" fill="#6ccfe0" stroke="#0d0d0d" stroke-width="2.0"/>
<rect x="1252.8" y="773.6" width="13.4" height="13.4" fill="#6ccfe0" stroke="#0d0d0d" stroke-width="2.0"/>
<rect x="1259.6" y="758.1" width="13.4" height="13.4" fill="#6ccfe0" stroke="#0d0d0d" stroke-width="2.0"/>
<rect x="1260.1" y="761.7" width="13.4" height="13.4" fill="#6ccfe0" stroke="#0d0d0d" stroke-width="2.0"/>
<rect x="1254.8" y="764.7" width="13.4" height="13.4" fill="#6ccfe0" stroke="#0d0d0d" stroke-width="2.0"/>
<rect x="1255.3" y="768.3" width="13.4" height="13.4" fill="#6ccfe0" stroke="#0d0d0d" stroke-width="2.0"/>
<rect x="1254.8" y="777.9" width="13.4" height="13.4" fill="#6ccfe0" stroke="#0d0d0d" stroke-width="2.0"/>
<rect x="1255.3" y="774.3" width="13.4" height="13.4" fill="#6ccfe0" stroke="#0d0d0d" stroke-width="2.0"/>
<rect x="1243.5" y="762.3" width="13.4" height="13.4" fill="#6ccfe0" stroke="#0d0d0d" stroke-width="2.0"/>
<rect x="1244.0" y="765.9" width="13.4" height="13.4" fill="#6ccfe0" stroke="#0d0d0d" stroke-width="2.0"/>
<rect x="1235.3" y="780.2" width="13.4" height="13.4" fill="#6ccfe0" stroke="#0d0d0d" stroke-width="2.0"/>
<rect x="1235.8" y="776.6" width="13.4" height="13.4" fill="#6ccfe0" stroke="#0d0d0d" stroke-width="2.0"/>
<rect x="1260.2" y="776.7" width="13.4" height="13.4" fill="#6ccfe0" stroke="#0d0d0d" stroke-width="2.0"/>
<rect x="1260.7" y="773.1" width="13.4" height="13.4" fill="#6ccfe0" stroke="#0d0d0d" stroke-width="2.0"/>
<rect x="1276.3" y="764.1" width="13.4" height="13.4" fill="#6ccfe0" stroke="#0d0d0d" stroke-width="2.0"/>
<rect x="1276.8" y="767.7" width="13.4" height="13.4" fill="#6ccfe0" stroke="#0d0d0d" stroke-width="2.0"/>
<rect x="1276.3" y="775.5" width="13.4" height="13.4" fill="#6ccfe0" stroke="#0d0d0d" stroke-width="2.0"/>
<rect x="1276.8" y="771.9" width="13.4" height="13.4" fill="#6ccfe0" stroke="#0d0d0d" stroke-width="2.0"/>
<rect x="1279.9" y="779.0" width="13.4" height="13.4" fill="#6ccfe0" stroke="#0d0d0d" stroke-width="2.0"/>
<rect x="1280.4" y="775.4" width="13.4" height="13.4" fill="#6ccfe0" stroke="#0d0d0d" stroke-width="2.0"/>
<rect x="1296.7" y="762.9" width="13.4" height="13.4" fill="#6ccfe0" stroke="#0d0d0d" stroke-width="2.0"/>
<rect x="1297.2" y="766.5" width="13.4" height="13.4" fill="#6ccfe0" stroke="#0d0d0d" stroke-width="2.0"/>
<rect x="1296.7" y="771.9" width="13.4" height="13.4" fill="#6ccfe0" stroke="#0d0d0d" stroke-width="2.0"/>
<rect x="1297.2" y="768.3" width="13.4" height="13.4" fill="#6ccfe0" stroke="#0d0d0d" stroke-width="2.0"/>
<rect x="1296.7" y="777.9" width="13.4" height="13.4" fill="#6ccfe0" stroke="#0d0d0d" stroke-width="2.0"/>
<rect x="1297.2" y="774.3" width="13.4" height="13.4" fill="#6ccfe0" stroke="#0d0d0d" stroke-width="2.0"/>
<rect x="1313.3" y="768.3" width="13.4" height="13.4" fill="#6ccfe0" stroke="#0d0d0d" stroke-width="2.0"/>
<rect x="1313.8" y="771.9" width="13.4" height="13.4" fill="#6ccfe0" stroke="#0d0d0d" stroke-width="2.0"/>
<rect x="1317.0" y="779.0" width="13.4" height="13.4" fill="#6ccfe0" stroke="#0d0d0d" stroke-width="2.0"/>
<rect x="1317.5" y="775.4" width="13.4" height="13.4" fill="#6ccfe0" stroke="#0d0d0d" stroke-width="2.0"/>
<rect x="1332.5" y="768.3" width="13.4" height="13.4" fill="#6ccfe0" stroke="#0d0d0d" stroke-width="2.0"/>
<rect x="1333.0" y="771.9" width="13.4" height="13.4" fill="#6ccfe0" stroke="#0d0d0d" stroke-width="2.0"/>
<rect x="1332.5" y="781.4" width="13.4" height="13.4" fill="#6ccfe0" stroke="#0d0d0d" stroke-width="2.0"/>
<rect x="1333.0" y="777.8" width="13.4" height="13.4" fill="#6ccfe0" stroke="#0d0d0d" stroke-width="2.0"/>
<rect x="1336.1" y="770.7" width="13.4" height="13.4" fill="#6ccfe0" stroke="#0d0d0d" stroke-width="2.0"/>
<rect x="1336.6" y="767.1" width="13.4" height="13.4" fill="#6ccfe0" stroke="#0d0d0d" stroke-width="2.0"/>
<rect x="1353.4" y="766.5" width="13.4" height="13.4" fill="#6ccfe0" stroke="#0d0d0d" stroke-width="2.0"/>
<rect x="1353.9" y="770.1" width="13.4" height="13.4" fill="#6ccfe0" stroke="#0d0d0d" stroke-width="2.0"/>
<rect x="1353.4" y="776.7" width="13.4" height="13.4" fill="#6ccfe0" stroke="#0d0d0d" stroke-width="2.0"/>
<rect x="1353.9" y="773.1" width="13.4" height="13.4" fill="#6ccfe0" stroke="#0d0d0d" stroke-width="2.0"/>
<rect x="1361.2" y="769.5" width="13.4" height="13.4" fill="#6ccfe0" stroke="#0d0d0d" stroke-width="2.0"/>
<rect x="1361.7" y="773.1" width="13.4" height="13.4" fill="#6ccfe0" stroke="#0d0d0d" stroke-width="2.0"/>
<rect x="1373.7" y="762.3" width="13.4" height="13.4" fill="#6ccfe0" stroke="#0d0d0d" stroke-width="2.0"/>
<rect x="1374.2" y="765.9" width="13.4" height="13.4" fill="#6ccfe0" stroke="#0d0d0d" stroke-width="2.0"/>
<rect x="1373.7" y="782.6" width="13.4" height="13.4" fill="#6ccfe0" stroke="#0d0d0d" stroke-width="2.0"/>
<rect x="1374.2" y="779.0" width="13.4" height="13.4" fill="#6ccfe0" stroke="#0d0d0d" stroke-width="2.0"/>
<rect x="1382.7" y="766.5" width="13.4" height="13.4" fill="#6ccfe0" stroke="#0d0d0d" stroke-width="2.0"/>
<rect x="1383.2" y="770.1" width="13.4" height="13.4" fill="#6ccfe0" stroke="#0d0d0d" stroke-width="2.0"/>
<rect x="1382.7" y="773.1" width="13.4" height="13.4" fill="#6ccfe0" stroke="#0d0d0d" stroke-width="2.0"/>
<rect x="1383.2" y="769.5" width="13.4" height="13.4" fill="#6ccfe0" stroke="#0d0d0d" stroke-width="2.0"/>
<rect x="1388.7" y="767.7" width="13.4" height="13.4" fill="#6ccfe0" stroke="#0d0d0d" stroke-width="2.0"/>
<rect x="1389.2" y="771.3" width="13.4" height="13.4" fill="#6ccfe0" stroke="#0d0d0d" stroke-width="2.0"/>
<line x1="719.3" y1="644.5" x2="1421.5" y2="644.5" stroke="#0a0a0a" stroke-width="2" />
<line x1="720.3" y1="644.5" x2="720.3" y2="1041.0" stroke="#0a0a0a" stroke-width="2" />
<line x1="1420.5" y1="644.5" x2="1420.5" y2="1041.0" stroke="#0a0a0a" stroke-width="2" />
<line x1="719.3" y1="1041.0" x2="1421.5" y2="1041.0" stroke="#0a0a0a" stroke-width="2" />
<line x1="720.3" y1="644.3" x2="730.5" y2="644.3" stroke="#0a0a0a" stroke-width="2" />
<text x="713.3" y="652.8" font-size="22.5" text-anchor="end" font-weight="normal" >10</text>
<line x1="720.3" y1="710.4" x2="730.5" y2="710.4" stroke="#0a0a0a" stroke-width="2" />
<text x="713.3" y="718.9" font-size="22.5" text-anchor="end" font-weight="normal" >5</text>
<line x1="720.3" y1="776.5" x2="730.5" y2="776.5" stroke="#0a0a0a" stroke-width="2" />
<text x="713.3" y="785.0" font-size="22.5" text-anchor="end" font-weight="normal" >0</text>
<line x1="720.3" y1="842.6" x2="730.5" y2="842.6" stroke="#0a0a0a" stroke-width="2" />
<text x="713.3" y="851.1" font-size="22.5" text-anchor="end" font-weight="normal" >–5</text>
<line x1="720.3" y1="908.7" x2="730.5" y2="908.7" stroke="#0a0a0a" stroke-width="2" />
<text x="713.3" y="917.2" font-size="22.5" text-anchor="end" font-weight="normal" >–10</text>
<line x1="720.3" y1="974.8" x2="730.5" y2="974.8" stroke="#0a0a0a" stroke-width="2" />
<text x="713.3" y="983.3" font-size="22.5" text-anchor="end" font-weight="normal" >–15</text>
<line x1="720.3" y1="1040.9" x2="730.5" y2="1040.9" stroke="#0a0a0a" stroke-width="2" />
<text x="713.3" y="1049.4" font-size="22.5" text-anchor="end" font-weight="normal" >–20</text>
<line x1="757.9" y1="1041.0" x2="757.9" y2="1030.5" stroke="#0a0a0a" stroke-width="2" />
<text x="737.1" y="1067.4" font-size="22.5" text-anchor="start" font-weight="normal" >30° S</text>
<line x1="852.5" y1="1041.0" x2="852.5" y2="1030.5" stroke="#0a0a0a" stroke-width="2" />
<text x="831.5" y="1067.4" font-size="22.5" text-anchor="start" font-weight="normal" >20° S</text>
<line x1="947.2" y1="1041.0" x2="947.2" y2="1030.5" stroke="#0a0a0a" stroke-width="2" />
<text x="925.9" y="1067.4" font-size="22.5" text-anchor="start" font-weight="normal" >10° S</text>
<line x1="1041.8" y1="1041.0" x2="1041.8" y2="1030.5" stroke="#0a0a0a" stroke-width="2" />
<text x="1035.1" y="1067.4" font-size="22.5" text-anchor="start" font-weight="normal" >0°</text>
<line x1="1136.5" y1="1041.0" x2="1136.5" y2="1030.5" stroke="#0a0a0a" stroke-width="2" />
<text x="1114.3" y="1067.4" font-size="22.5" text-anchor="start" font-weight="normal" >10° N</text>
<line x1="1231.1" y1="1041.0" x2="1231.1" y2="1030.5" stroke="#0a0a0a" stroke-width="2" />
<text x="1209.6" y="1067.4" font-size="22.5" text-anchor="start" font-weight="normal" >20° N</text>
<line x1="1325.8" y1="1041.0" x2="1325.8" y2="1030.5" stroke="#0a0a0a" stroke-width="2" />
<text x="1303.4" y="1067.4" font-size="22.5" text-anchor="start" font-weight="normal" >30° N</text>
<text x="299.8" y="523.0" font-size="27" font-weight="bold" text-anchor="middle" >NCP mmolO<tspan font-size="20" dy="5.5">2</tspan><tspan dy="-5.5">m</tspan><tspan font-size="20" dy="-12">-3</tspan><tspan dy="12">d</tspan><tspan font-size="20" dy="-12">-1</tspan></text>
<text x="27.0" y="244.8" font-size="27" font-weight="bold" text-anchor="middle" transform="rotate(-90 27.0 244.8)">s.e. NCP mmolO<tspan font-size="20" dy="5.5">2</tspan><tspan dy="-5.5">m</tspan><tspan font-size="20" dy="-12">-3</tspan><tspan dy="12">d</tspan><tspan font-size="20" dy="-12">-1</tspan></text>
<text x="26.5" y="838.0" font-size="27" font-weight="bold" text-anchor="middle" transform="rotate(-90 26.5 838.0)">NCP mmolO<tspan font-size="20" dy="5.5">2</tspan><tspan dy="-5.5">m</tspan><tspan font-size="20" dy="-12">-3</tspan><tspan dy="12">d</tspan><tspan font-size="20" dy="-12">-1</tspan></text>
<text x="649.3" y="250.0" font-size="27" font-weight="bold" text-anchor="middle" transform="rotate(-90 649.3 250.0)">NCP mmolO<tspan font-size="20" dy="5.5">2</tspan><tspan dy="-5.5">m</tspan><tspan font-size="20" dy="-12">-3</tspan><tspan dy="12">d</tspan><tspan font-size="20" dy="-12">-1</tspan></text>
<text x="649.3" y="844.2" font-size="27" font-weight="bold" text-anchor="middle" transform="rotate(-90 649.3 844.2)">NCP mmolO<tspan font-size="20" dy="5.5">2</tspan><tspan dy="-5.5">m</tspan><tspan font-size="20" dy="-12">-3</tspan><tspan dy="12">d</tspan><tspan font-size="20" dy="-12">-1</tspan></text>
<text x="300.5" y="1117" font-size="27" font-weight="bold" text-anchor="middle">mgChl-a m<tspan font-size="20" dy="-12">-3</tspan></text>
<text x="1053.0" y="518.5" font-size="27" text-anchor="middle" font-weight="bold" >Lat</text>
<text x="1053.0" y="1112.7" font-size="27" text-anchor="middle" font-weight="bold" >Lat</text>
<text x="8.6" y="24.0" font-size="30" text-anchor="start" font-weight="bold" >A</text>
<text x="8.6" y="624.5" font-size="30" text-anchor="start" font-weight="bold" >B</text>
<text x="627.0" y="24.0" font-size="30" text-anchor="start" font-weight="bold" >C</text>
<text x="627.3" y="625.4" font-size="30" text-anchor="start" font-weight="bold" >D</text>
</svg></body></html>
